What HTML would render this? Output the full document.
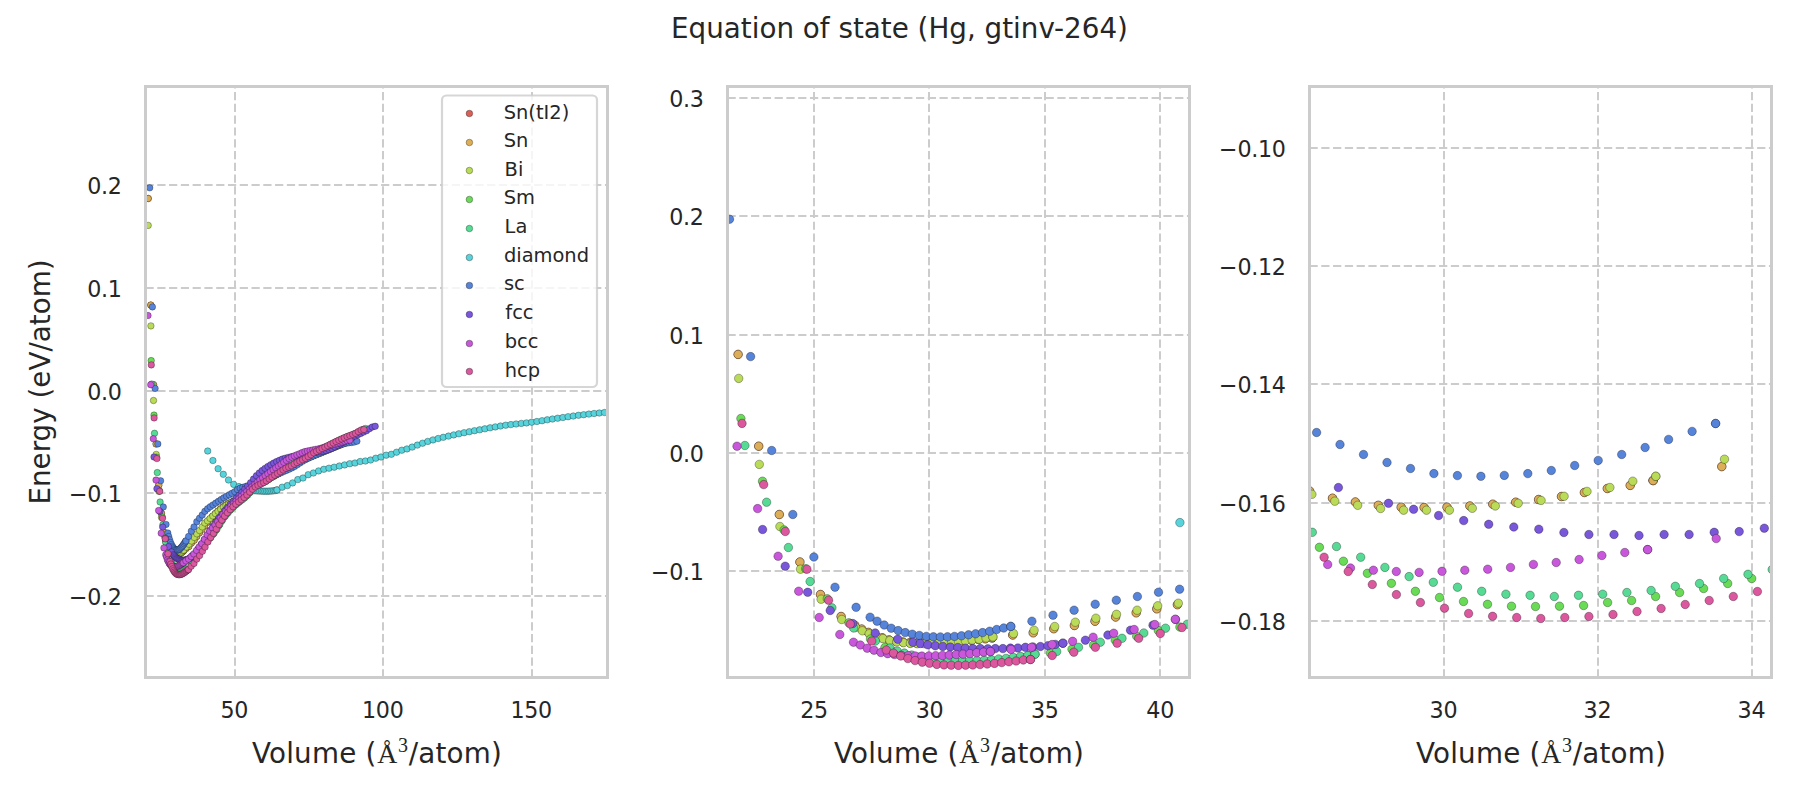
<!DOCTYPE html>
<html lang="en"><head><meta charset="utf-8"><title>Equation of state (Hg, gtinv-264)</title>
<style>
html,body{margin:0;padding:0;background:#fff;}
body{width:1800px;height:800px;overflow:hidden;}
svg{display:block;}
text{font-family:"DejaVu Sans","Liberation Sans",sans-serif;fill:#262626;}
.tick text{font-size:22.22px;letter-spacing:-0.3px;}
.lab,.title{font-size:27.78px;}
.xl{letter-spacing:0.22px;}
.leg{font-size:19.44px;}
.math{font-family:"Liberation Serif","DejaVu Serif",serif;}
.sup{font-family:"Liberation Serif","DejaVu Serif",serif;font-size:20px;}
.grid path{stroke:#ccc;stroke-width:2;stroke-dasharray:8.22 3.56;fill:none;}
.spine{fill:none;stroke:#ccc;stroke-width:3;stroke-linejoin:miter;}
circle{stroke:#000;stroke-opacity:0.55;stroke-width:0.55;}
</style></head><body>
<svg width="1800" height="800" viewBox="0 0 1800 800">
<rect width="1800" height="800" fill="#fff"/>
<defs>
<clipPath id="clipL"><rect x="145.5" y="86.5" width="462" height="591.0"/></clipPath>
<clipPath id="clipM"><rect x="727.5" y="86.5" width="462" height="591.0"/></clipPath>
<clipPath id="clipR"><rect x="1309.5" y="86.5" width="462" height="591.0"/></clipPath>
</defs>
<g class="grid">
<path d="M235 677.5V86.5"/>
<path d="M383 677.5V86.5"/>
<path d="M532 677.5V86.5"/>
<path d="M145.5 185H607.5"/>
<path d="M145.5 288H607.5"/>
<path d="M145.5 391H607.5"/>
<path d="M145.5 493H607.5"/>
<path d="M145.5 596H607.5"/>
</g>
<g class="grid">
<path d="M814 677.5V86.5"/>
<path d="M929 677.5V86.5"/>
<path d="M1045 677.5V86.5"/>
<path d="M1160 677.5V86.5"/>
<path d="M727.5 98H1189.5"/>
<path d="M727.5 216H1189.5"/>
<path d="M727.5 335H1189.5"/>
<path d="M727.5 453H1189.5"/>
<path d="M727.5 571H1189.5"/>
</g>
<g class="grid">
<path d="M1444 677.5V86.5"/>
<path d="M1598 677.5V86.5"/>
<path d="M1752 677.5V86.5"/>
<path d="M1309.5 148H1771.5"/>
<path d="M1309.5 266H1771.5"/>
<path d="M1309.5 384H1771.5"/>
<path d="M1309.5 503H1771.5"/>
<path d="M1309.5 621H1771.5"/>
</g>
<g clip-path="url(#clipL)">
<g fill="#db5f57">
<circle cx="148.2" cy="198.5" r="3.25"/>
<circle cx="150.8" cy="305.1" r="3.25"/>
<circle cx="153.5" cy="384.7" r="3.25"/>
<circle cx="156.1" cy="443.9" r="3.25"/>
<circle cx="158.8" cy="485.1" r="3.25"/>
<circle cx="161.4" cy="513.3" r="3.25"/>
<circle cx="164.1" cy="532.3" r="3.25"/>
<circle cx="165.8" cy="540.0" r="3.25"/>
<circle cx="166.7" cy="543.3" r="3.25"/>
<circle cx="167.6" cy="546.2" r="3.25"/>
<circle cx="168.5" cy="548.7" r="3.25"/>
<circle cx="169.4" cy="550.9" r="3.25"/>
<circle cx="170.2" cy="552.6" r="3.25"/>
<circle cx="171.1" cy="553.9" r="3.25"/>
<circle cx="172.0" cy="554.5" r="3.25"/>
<circle cx="172.9" cy="555.1" r="3.25"/>
<circle cx="173.8" cy="555.4" r="3.25"/>
<circle cx="174.7" cy="555.5" r="3.25"/>
<circle cx="175.5" cy="555.4" r="3.25"/>
<circle cx="176.4" cy="555.2" r="3.25"/>
<circle cx="177.3" cy="554.9" r="3.25"/>
<circle cx="178.2" cy="554.6" r="3.25"/>
<circle cx="179.1" cy="554.1" r="3.25"/>
<circle cx="180.0" cy="553.6" r="3.25"/>
<circle cx="180.8" cy="552.9" r="3.25"/>
<circle cx="181.7" cy="552.2" r="3.25"/>
<circle cx="182.6" cy="551.7" r="3.25"/>
<circle cx="183.5" cy="550.8" r="3.25"/>
<circle cx="183.5" cy="550.8" r="3.25"/>
<circle cx="186.1" cy="548.4" r="3.25"/>
<circle cx="188.8" cy="546.5" r="3.25"/>
<circle cx="191.4" cy="542.9" r="3.25"/>
<circle cx="194.1" cy="540.2" r="3.25"/>
<circle cx="196.7" cy="536.4" r="3.25"/>
<circle cx="199.4" cy="532.8" r="3.25"/>
<circle cx="202.0" cy="529.2" r="3.25"/>
<circle cx="204.7" cy="525.6" r="3.25"/>
<circle cx="207.3" cy="522.1" r="3.25"/>
<circle cx="210.0" cy="519.2" r="3.25"/>
<circle cx="212.6" cy="516.3" r="3.25"/>
<circle cx="215.3" cy="513.7" r="3.25"/>
<circle cx="217.9" cy="511.2" r="3.25"/>
<circle cx="220.6" cy="508.9" r="3.25"/>
<circle cx="223.2" cy="506.9" r="3.25"/>
<circle cx="225.9" cy="505.1" r="3.25"/>
<circle cx="228.5" cy="503.6" r="3.25"/>
<circle cx="231.2" cy="502.3" r="3.25"/>
<circle cx="233.8" cy="500.9" r="3.25"/>
<circle cx="236.5" cy="499.3" r="3.25"/>
<circle cx="239.1" cy="497.4" r="3.25"/>
<circle cx="241.8" cy="495.5" r="3.25"/>
<circle cx="244.4" cy="493.6" r="3.25"/>
<circle cx="247.1" cy="491.6" r="3.25"/>
<circle cx="249.7" cy="489.6" r="3.25"/>
<circle cx="252.4" cy="487.6" r="3.25"/>
<circle cx="255.0" cy="485.7" r="3.25"/>
<circle cx="257.7" cy="484.5" r="3.25"/>
<circle cx="260.3" cy="483.3" r="3.25"/>
<circle cx="263.0" cy="482.4" r="3.25"/>
<circle cx="265.6" cy="481.3" r="3.25"/>
<circle cx="268.3" cy="479.5" r="3.25"/>
<circle cx="270.9" cy="477.7" r="3.25"/>
<circle cx="273.6" cy="476.2" r="3.25"/>
<circle cx="276.2" cy="474.7" r="3.25"/>
<circle cx="278.9" cy="473.2" r="3.25"/>
<circle cx="281.5" cy="471.6" r="3.25"/>
<circle cx="284.2" cy="470.0" r="3.25"/>
<circle cx="286.8" cy="468.6" r="3.25"/>
<circle cx="289.5" cy="467.3" r="3.25"/>
<circle cx="292.1" cy="465.7" r="3.25"/>
<circle cx="294.8" cy="464.0" r="3.25"/>
<circle cx="297.4" cy="462.6" r="3.25"/>
<circle cx="300.1" cy="461.2" r="3.25"/>
<circle cx="302.7" cy="460.0" r="3.25"/>
<circle cx="305.4" cy="458.9" r="3.25"/>
<circle cx="308.0" cy="457.8" r="3.25"/>
<circle cx="310.6" cy="456.7" r="3.25"/>
<circle cx="313.3" cy="455.7" r="3.25"/>
<circle cx="315.9" cy="454.6" r="3.25"/>
<circle cx="318.6" cy="453.6" r="3.25"/>
<circle cx="321.2" cy="452.6" r="3.25"/>
<circle cx="323.9" cy="451.5" r="3.25"/>
<circle cx="326.5" cy="450.4" r="3.25"/>
<circle cx="329.2" cy="449.4" r="3.25"/>
<circle cx="331.8" cy="448.3" r="3.25"/>
<circle cx="334.5" cy="447.2" r="3.25"/>
<circle cx="337.1" cy="446.1" r="3.25"/>
<circle cx="339.8" cy="445.0" r="3.25"/>
<circle cx="342.4" cy="443.9" r="3.25"/>
<circle cx="345.1" cy="442.9" r="3.25"/>
<circle cx="347.7" cy="442.0" r="3.25"/>
<circle cx="350.4" cy="441.0" r="3.25"/>
</g>
<g fill="#dbae57">
<circle cx="148.2" cy="198.5" r="3.25"/>
<circle cx="150.8" cy="305.1" r="3.25"/>
<circle cx="153.5" cy="384.7" r="3.25"/>
<circle cx="156.1" cy="443.9" r="3.25"/>
<circle cx="158.8" cy="485.1" r="3.25"/>
<circle cx="161.4" cy="513.3" r="3.25"/>
<circle cx="164.1" cy="532.3" r="3.25"/>
<circle cx="165.8" cy="540.0" r="3.25"/>
<circle cx="166.7" cy="543.3" r="3.25"/>
<circle cx="167.6" cy="546.2" r="3.25"/>
<circle cx="168.5" cy="548.7" r="3.25"/>
<circle cx="169.4" cy="550.9" r="3.25"/>
<circle cx="170.2" cy="552.6" r="3.25"/>
<circle cx="171.1" cy="553.9" r="3.25"/>
<circle cx="172.0" cy="554.5" r="3.25"/>
<circle cx="172.9" cy="555.1" r="3.25"/>
<circle cx="173.8" cy="555.4" r="3.25"/>
<circle cx="174.7" cy="555.5" r="3.25"/>
<circle cx="175.5" cy="555.4" r="3.25"/>
<circle cx="176.4" cy="555.2" r="3.25"/>
<circle cx="177.3" cy="554.9" r="3.25"/>
<circle cx="178.2" cy="554.6" r="3.25"/>
<circle cx="179.1" cy="554.1" r="3.25"/>
<circle cx="180.0" cy="553.6" r="3.25"/>
<circle cx="180.8" cy="552.9" r="3.25"/>
<circle cx="181.7" cy="552.2" r="3.25"/>
<circle cx="182.6" cy="551.7" r="3.25"/>
<circle cx="183.5" cy="550.8" r="3.25"/>
<circle cx="183.5" cy="550.8" r="3.25"/>
<circle cx="186.1" cy="548.4" r="3.25"/>
<circle cx="188.8" cy="546.5" r="3.25"/>
<circle cx="191.4" cy="542.9" r="3.25"/>
<circle cx="194.1" cy="540.2" r="3.25"/>
<circle cx="196.7" cy="536.4" r="3.25"/>
<circle cx="199.4" cy="532.8" r="3.25"/>
<circle cx="202.0" cy="529.2" r="3.25"/>
<circle cx="204.7" cy="525.6" r="3.25"/>
<circle cx="207.3" cy="522.1" r="3.25"/>
<circle cx="210.0" cy="519.2" r="3.25"/>
<circle cx="212.6" cy="516.3" r="3.25"/>
<circle cx="215.3" cy="513.7" r="3.25"/>
<circle cx="217.9" cy="511.2" r="3.25"/>
<circle cx="220.6" cy="508.9" r="3.25"/>
<circle cx="223.2" cy="506.9" r="3.25"/>
<circle cx="225.9" cy="505.1" r="3.25"/>
<circle cx="228.5" cy="503.6" r="3.25"/>
<circle cx="231.2" cy="502.3" r="3.25"/>
<circle cx="233.8" cy="500.9" r="3.25"/>
<circle cx="236.5" cy="499.3" r="3.25"/>
<circle cx="239.1" cy="497.4" r="3.25"/>
<circle cx="241.8" cy="495.5" r="3.25"/>
<circle cx="244.4" cy="493.6" r="3.25"/>
<circle cx="247.1" cy="491.6" r="3.25"/>
<circle cx="249.7" cy="489.6" r="3.25"/>
<circle cx="252.4" cy="487.6" r="3.25"/>
<circle cx="255.0" cy="485.7" r="3.25"/>
<circle cx="257.7" cy="484.5" r="3.25"/>
<circle cx="260.3" cy="483.3" r="3.25"/>
<circle cx="263.0" cy="482.4" r="3.25"/>
<circle cx="265.6" cy="481.3" r="3.25"/>
<circle cx="268.3" cy="479.5" r="3.25"/>
<circle cx="270.9" cy="477.7" r="3.25"/>
<circle cx="273.6" cy="476.2" r="3.25"/>
<circle cx="276.2" cy="474.7" r="3.25"/>
<circle cx="278.9" cy="473.2" r="3.25"/>
<circle cx="281.5" cy="471.6" r="3.25"/>
<circle cx="284.2" cy="470.0" r="3.25"/>
<circle cx="286.8" cy="468.6" r="3.25"/>
<circle cx="289.5" cy="467.3" r="3.25"/>
<circle cx="292.1" cy="465.7" r="3.25"/>
<circle cx="294.8" cy="464.0" r="3.25"/>
<circle cx="297.4" cy="462.6" r="3.25"/>
<circle cx="300.1" cy="461.2" r="3.25"/>
<circle cx="302.7" cy="460.0" r="3.25"/>
<circle cx="305.4" cy="458.9" r="3.25"/>
<circle cx="308.0" cy="457.8" r="3.25"/>
<circle cx="310.6" cy="456.7" r="3.25"/>
<circle cx="313.3" cy="455.7" r="3.25"/>
<circle cx="315.9" cy="454.6" r="3.25"/>
<circle cx="318.6" cy="453.6" r="3.25"/>
<circle cx="321.2" cy="452.6" r="3.25"/>
<circle cx="323.9" cy="451.5" r="3.25"/>
<circle cx="326.5" cy="450.4" r="3.25"/>
<circle cx="329.2" cy="449.4" r="3.25"/>
<circle cx="331.8" cy="448.3" r="3.25"/>
<circle cx="334.5" cy="447.2" r="3.25"/>
<circle cx="337.1" cy="446.1" r="3.25"/>
<circle cx="339.8" cy="445.0" r="3.25"/>
<circle cx="342.4" cy="443.9" r="3.25"/>
<circle cx="345.1" cy="442.9" r="3.25"/>
<circle cx="347.7" cy="442.0" r="3.25"/>
<circle cx="350.4" cy="441.0" r="3.25"/>
</g>
<g fill="#b9db57">
<circle cx="148.2" cy="225.4" r="3.25"/>
<circle cx="150.9" cy="325.9" r="3.25"/>
<circle cx="153.5" cy="400.5" r="3.25"/>
<circle cx="156.2" cy="454.4" r="3.25"/>
<circle cx="158.8" cy="491.3" r="3.25"/>
<circle cx="161.5" cy="517.4" r="3.25"/>
<circle cx="164.1" cy="534.9" r="3.25"/>
<circle cx="165.9" cy="541.8" r="3.25"/>
<circle cx="166.8" cy="544.7" r="3.25"/>
<circle cx="167.7" cy="547.3" r="3.25"/>
<circle cx="168.6" cy="549.6" r="3.25"/>
<circle cx="169.4" cy="551.6" r="3.25"/>
<circle cx="170.3" cy="553.2" r="3.25"/>
<circle cx="171.2" cy="554.4" r="3.25"/>
<circle cx="172.1" cy="555.1" r="3.25"/>
<circle cx="173.0" cy="555.7" r="3.25"/>
<circle cx="173.9" cy="556.0" r="3.25"/>
<circle cx="174.7" cy="556.0" r="3.25"/>
<circle cx="175.6" cy="556.0" r="3.25"/>
<circle cx="176.5" cy="555.6" r="3.25"/>
<circle cx="177.4" cy="555.2" r="3.25"/>
<circle cx="178.3" cy="554.8" r="3.25"/>
<circle cx="179.2" cy="554.3" r="3.25"/>
<circle cx="180.1" cy="553.5" r="3.25"/>
<circle cx="180.9" cy="552.7" r="3.25"/>
<circle cx="181.8" cy="552.0" r="3.25"/>
<circle cx="182.7" cy="550.9" r="3.25"/>
<circle cx="183.6" cy="550.1" r="3.25"/>
<circle cx="183.6" cy="550.1" r="3.25"/>
<circle cx="186.2" cy="547.1" r="3.25"/>
<circle cx="188.9" cy="544.2" r="3.25"/>
<circle cx="191.5" cy="541.0" r="3.25"/>
<circle cx="194.2" cy="537.4" r="3.25"/>
<circle cx="196.8" cy="533.8" r="3.25"/>
<circle cx="199.5" cy="530.5" r="3.25"/>
<circle cx="202.2" cy="526.9" r="3.25"/>
<circle cx="204.8" cy="523.0" r="3.25"/>
<circle cx="207.5" cy="520.8" r="3.25"/>
<circle cx="210.1" cy="518.4" r="3.25"/>
<circle cx="212.8" cy="515.9" r="3.25"/>
<circle cx="215.4" cy="513.6" r="3.25"/>
<circle cx="218.1" cy="511.3" r="3.25"/>
<circle cx="220.7" cy="509.2" r="3.25"/>
<circle cx="223.4" cy="507.2" r="3.25"/>
<circle cx="226.0" cy="505.4" r="3.25"/>
<circle cx="228.7" cy="503.9" r="3.25"/>
<circle cx="231.3" cy="502.6" r="3.25"/>
<circle cx="234.0" cy="501.1" r="3.25"/>
<circle cx="236.6" cy="499.5" r="3.25"/>
<circle cx="239.3" cy="497.6" r="3.25"/>
<circle cx="241.9" cy="495.7" r="3.25"/>
<circle cx="244.6" cy="493.7" r="3.25"/>
<circle cx="247.2" cy="491.8" r="3.25"/>
<circle cx="249.9" cy="489.8" r="3.25"/>
<circle cx="252.5" cy="487.8" r="3.25"/>
<circle cx="255.2" cy="485.9" r="3.25"/>
<circle cx="257.8" cy="484.7" r="3.25"/>
<circle cx="260.5" cy="483.5" r="3.25"/>
<circle cx="263.1" cy="482.6" r="3.25"/>
<circle cx="265.8" cy="481.4" r="3.25"/>
<circle cx="268.5" cy="479.5" r="3.25"/>
<circle cx="271.1" cy="477.8" r="3.25"/>
<circle cx="273.8" cy="476.3" r="3.25"/>
<circle cx="276.4" cy="474.8" r="3.25"/>
<circle cx="279.1" cy="473.3" r="3.25"/>
<circle cx="281.7" cy="471.7" r="3.25"/>
<circle cx="284.4" cy="470.1" r="3.25"/>
<circle cx="287.0" cy="468.7" r="3.25"/>
<circle cx="289.7" cy="467.5" r="3.25"/>
<circle cx="292.3" cy="465.8" r="3.25"/>
<circle cx="295.0" cy="464.1" r="3.25"/>
<circle cx="297.6" cy="462.6" r="3.25"/>
<circle cx="300.3" cy="461.3" r="3.25"/>
<circle cx="302.9" cy="460.1" r="3.25"/>
<circle cx="305.6" cy="459.0" r="3.25"/>
<circle cx="308.2" cy="457.9" r="3.25"/>
<circle cx="310.9" cy="456.9" r="3.25"/>
<circle cx="313.5" cy="455.8" r="3.25"/>
<circle cx="316.2" cy="454.8" r="3.25"/>
<circle cx="318.8" cy="453.7" r="3.25"/>
<circle cx="321.5" cy="452.7" r="3.25"/>
<circle cx="324.1" cy="451.6" r="3.25"/>
<circle cx="326.8" cy="450.5" r="3.25"/>
<circle cx="329.4" cy="449.5" r="3.25"/>
<circle cx="332.1" cy="448.3" r="3.25"/>
<circle cx="334.8" cy="447.2" r="3.25"/>
<circle cx="337.4" cy="446.1" r="3.25"/>
<circle cx="340.1" cy="445.1" r="3.25"/>
<circle cx="342.7" cy="444.0" r="3.25"/>
<circle cx="345.4" cy="443.0" r="3.25"/>
<circle cx="348.0" cy="442.1" r="3.25"/>
<circle cx="350.7" cy="441.2" r="3.25"/>
</g>
<g fill="#69db57">
<circle cx="151.2" cy="360.6" r="3.25"/>
<circle cx="154.0" cy="415.1" r="3.25"/>
<circle cx="156.7" cy="457.3" r="3.25"/>
<circle cx="159.5" cy="491.0" r="3.25"/>
<circle cx="162.3" cy="517.0" r="3.25"/>
<circle cx="165.1" cy="537.8" r="3.25"/>
<circle cx="167.8" cy="551.9" r="3.25"/>
<circle cx="169.7" cy="559.3" r="3.25"/>
<circle cx="170.6" cy="562.4" r="3.25"/>
<circle cx="171.5" cy="564.8" r="3.25"/>
<circle cx="172.5" cy="566.9" r="3.25"/>
<circle cx="173.4" cy="568.6" r="3.25"/>
<circle cx="174.3" cy="570.0" r="3.25"/>
<circle cx="175.2" cy="571.1" r="3.25"/>
<circle cx="176.2" cy="571.8" r="3.25"/>
<circle cx="177.1" cy="572.3" r="3.25"/>
<circle cx="178.0" cy="572.6" r="3.25"/>
<circle cx="179.0" cy="572.7" r="3.25"/>
<circle cx="179.9" cy="572.6" r="3.25"/>
<circle cx="180.8" cy="572.5" r="3.25"/>
<circle cx="181.7" cy="572.0" r="3.25"/>
<circle cx="182.7" cy="571.6" r="3.25"/>
<circle cx="183.6" cy="570.9" r="3.25"/>
<circle cx="184.5" cy="570.2" r="3.25"/>
<circle cx="185.4" cy="569.6" r="3.25"/>
<circle cx="186.4" cy="568.7" r="3.25"/>
<circle cx="187.3" cy="567.8" r="3.25"/>
<circle cx="188.2" cy="566.6" r="3.25"/>
<circle cx="188.2" cy="566.6" r="3.25"/>
<circle cx="191.0" cy="564.0" r="3.25"/>
<circle cx="193.8" cy="560.8" r="3.25"/>
<circle cx="196.5" cy="557.1" r="3.25"/>
<circle cx="199.3" cy="552.7" r="3.25"/>
<circle cx="202.1" cy="549.5" r="3.25"/>
<circle cx="204.9" cy="544.5" r="3.25"/>
<circle cx="207.7" cy="541.5" r="3.25"/>
<circle cx="210.4" cy="538.0" r="3.25"/>
<circle cx="213.2" cy="534.2" r="3.25"/>
<circle cx="216.0" cy="530.3" r="3.25"/>
<circle cx="218.8" cy="525.8" r="3.25"/>
<circle cx="221.6" cy="521.3" r="3.25"/>
<circle cx="224.3" cy="517.1" r="3.25"/>
<circle cx="227.1" cy="513.7" r="3.25"/>
<circle cx="229.9" cy="510.5" r="3.25"/>
<circle cx="232.7" cy="507.6" r="3.25"/>
<circle cx="235.4" cy="505.0" r="3.25"/>
<circle cx="238.2" cy="502.7" r="3.25"/>
<circle cx="241.0" cy="500.5" r="3.25"/>
<circle cx="243.8" cy="498.4" r="3.25"/>
<circle cx="246.6" cy="495.9" r="3.25"/>
<circle cx="249.3" cy="493.1" r="3.25"/>
<circle cx="252.1" cy="490.3" r="3.25"/>
<circle cx="254.9" cy="487.8" r="3.25"/>
<circle cx="257.7" cy="485.8" r="3.25"/>
<circle cx="260.4" cy="484.0" r="3.25"/>
<circle cx="263.2" cy="482.3" r="3.25"/>
<circle cx="266.0" cy="480.5" r="3.25"/>
<circle cx="268.8" cy="478.4" r="3.25"/>
<circle cx="271.6" cy="476.4" r="3.25"/>
<circle cx="274.3" cy="474.7" r="3.25"/>
<circle cx="277.1" cy="473.0" r="3.25"/>
<circle cx="279.9" cy="471.3" r="3.25"/>
<circle cx="282.7" cy="469.5" r="3.25"/>
<circle cx="285.4" cy="467.9" r="3.25"/>
<circle cx="288.2" cy="466.7" r="3.25"/>
<circle cx="291.0" cy="465.4" r="3.25"/>
<circle cx="293.8" cy="463.8" r="3.25"/>
<circle cx="296.6" cy="462.2" r="3.25"/>
<circle cx="299.3" cy="460.7" r="3.25"/>
<circle cx="302.1" cy="459.3" r="3.25"/>
<circle cx="304.9" cy="457.9" r="3.25"/>
<circle cx="307.7" cy="456.5" r="3.25"/>
<circle cx="310.4" cy="454.9" r="3.25"/>
<circle cx="313.2" cy="453.3" r="3.25"/>
<circle cx="316.0" cy="451.9" r="3.25"/>
<circle cx="318.8" cy="450.5" r="3.25"/>
<circle cx="321.6" cy="449.1" r="3.25"/>
<circle cx="324.3" cy="447.7" r="3.25"/>
<circle cx="327.1" cy="446.3" r="3.25"/>
<circle cx="329.9" cy="444.9" r="3.25"/>
<circle cx="332.7" cy="443.5" r="3.25"/>
<circle cx="335.5" cy="442.1" r="3.25"/>
<circle cx="338.2" cy="440.8" r="3.25"/>
<circle cx="341.0" cy="439.5" r="3.25"/>
<circle cx="343.8" cy="438.2" r="3.25"/>
<circle cx="346.6" cy="437.1" r="3.25"/>
<circle cx="349.3" cy="436.0" r="3.25"/>
<circle cx="352.1" cy="435.0" r="3.25"/>
<circle cx="354.9" cy="433.8" r="3.25"/>
<circle cx="357.7" cy="432.5" r="3.25"/>
<circle cx="360.5" cy="431.0" r="3.25"/>
<circle cx="363.2" cy="429.4" r="3.25"/>
</g>
<g fill="#57db94">
<circle cx="151.7" cy="384.1" r="3.25"/>
<circle cx="154.5" cy="433.3" r="3.25"/>
<circle cx="157.3" cy="472.6" r="3.25"/>
<circle cx="160.1" cy="502.0" r="3.25"/>
<circle cx="162.9" cy="524.8" r="3.25"/>
<circle cx="165.7" cy="542.3" r="3.25"/>
<circle cx="168.5" cy="553.7" r="3.25"/>
<circle cx="170.3" cy="559.8" r="3.25"/>
<circle cx="171.3" cy="562.3" r="3.25"/>
<circle cx="172.2" cy="564.1" r="3.25"/>
<circle cx="173.1" cy="565.9" r="3.25"/>
<circle cx="174.1" cy="567.5" r="3.25"/>
<circle cx="175.0" cy="568.5" r="3.25"/>
<circle cx="175.9" cy="569.3" r="3.25"/>
<circle cx="176.9" cy="570.0" r="3.25"/>
<circle cx="177.8" cy="570.5" r="3.25"/>
<circle cx="178.7" cy="570.7" r="3.25"/>
<circle cx="179.7" cy="570.9" r="3.25"/>
<circle cx="180.6" cy="570.7" r="3.25"/>
<circle cx="181.5" cy="570.5" r="3.25"/>
<circle cx="182.5" cy="570.2" r="3.25"/>
<circle cx="183.4" cy="569.9" r="3.25"/>
<circle cx="184.3" cy="569.2" r="3.25"/>
<circle cx="185.3" cy="568.7" r="3.25"/>
<circle cx="186.2" cy="567.8" r="3.25"/>
<circle cx="187.1" cy="567.1" r="3.25"/>
<circle cx="188.1" cy="566.3" r="3.25"/>
<circle cx="189.0" cy="565.1" r="3.25"/>
<circle cx="189.0" cy="565.1" r="3.25"/>
<circle cx="191.8" cy="562.7" r="3.25"/>
<circle cx="194.6" cy="559.1" r="3.25"/>
<circle cx="197.4" cy="554.7" r="3.25"/>
<circle cx="200.2" cy="551.3" r="3.25"/>
<circle cx="203.0" cy="546.7" r="3.25"/>
<circle cx="205.8" cy="542.6" r="3.25"/>
<circle cx="208.6" cy="539.0" r="3.25"/>
<circle cx="211.4" cy="536.0" r="3.25"/>
<circle cx="214.2" cy="532.9" r="3.25"/>
<circle cx="217.0" cy="529.1" r="3.25"/>
<circle cx="219.8" cy="524.5" r="3.25"/>
<circle cx="222.6" cy="519.9" r="3.25"/>
<circle cx="225.4" cy="516.0" r="3.25"/>
<circle cx="228.2" cy="512.6" r="3.25"/>
<circle cx="231.0" cy="509.5" r="3.25"/>
<circle cx="233.8" cy="506.7" r="3.25"/>
<circle cx="236.6" cy="504.2" r="3.25"/>
<circle cx="239.4" cy="502.0" r="3.25"/>
<circle cx="242.2" cy="499.8" r="3.25"/>
<circle cx="245.0" cy="497.5" r="3.25"/>
<circle cx="247.8" cy="494.9" r="3.25"/>
<circle cx="250.6" cy="492.0" r="3.25"/>
<circle cx="253.4" cy="489.3" r="3.25"/>
<circle cx="256.2" cy="487.0" r="3.25"/>
<circle cx="259.0" cy="485.1" r="3.25"/>
<circle cx="261.8" cy="483.3" r="3.25"/>
<circle cx="264.6" cy="481.7" r="3.25"/>
<circle cx="267.4" cy="479.6" r="3.25"/>
<circle cx="270.2" cy="477.5" r="3.25"/>
<circle cx="273.0" cy="475.7" r="3.25"/>
<circle cx="275.8" cy="474.0" r="3.25"/>
<circle cx="278.6" cy="472.3" r="3.25"/>
<circle cx="281.4" cy="470.6" r="3.25"/>
<circle cx="284.2" cy="468.8" r="3.25"/>
<circle cx="287.0" cy="467.4" r="3.25"/>
<circle cx="289.8" cy="466.3" r="3.25"/>
<circle cx="292.6" cy="464.7" r="3.25"/>
<circle cx="295.4" cy="463.0" r="3.25"/>
<circle cx="298.2" cy="461.5" r="3.25"/>
<circle cx="301.0" cy="460.0" r="3.25"/>
<circle cx="303.8" cy="458.7" r="3.25"/>
<circle cx="306.6" cy="457.2" r="3.25"/>
<circle cx="309.4" cy="455.6" r="3.25"/>
<circle cx="312.2" cy="454.0" r="3.25"/>
<circle cx="315.0" cy="452.4" r="3.25"/>
<circle cx="317.8" cy="450.9" r="3.25"/>
<circle cx="320.6" cy="449.6" r="3.25"/>
<circle cx="323.4" cy="448.2" r="3.25"/>
<circle cx="326.2" cy="446.8" r="3.25"/>
<circle cx="329.0" cy="445.4" r="3.25"/>
<circle cx="331.8" cy="443.9" r="3.25"/>
<circle cx="334.6" cy="442.5" r="3.25"/>
<circle cx="337.4" cy="441.2" r="3.25"/>
<circle cx="340.2" cy="439.8" r="3.25"/>
<circle cx="343.0" cy="438.6" r="3.25"/>
<circle cx="345.8" cy="437.4" r="3.25"/>
<circle cx="348.6" cy="436.3" r="3.25"/>
<circle cx="351.4" cy="435.3" r="3.25"/>
<circle cx="354.2" cy="434.1" r="3.25"/>
<circle cx="357.0" cy="432.9" r="3.25"/>
<circle cx="359.8" cy="431.5" r="3.25"/>
<circle cx="362.6" cy="430.1" r="3.25"/>
<circle cx="365.4" cy="428.5" r="3.25"/>
</g>
<g fill="#57d3db">
<circle cx="207.7" cy="451.0" r="3.25"/>
<circle cx="212.9" cy="460.5" r="3.25"/>
<circle cx="218.1" cy="468.7" r="3.25"/>
<circle cx="223.3" cy="474.3" r="3.25"/>
<circle cx="228.5" cy="480.0" r="3.25"/>
<circle cx="233.7" cy="484.4" r="3.25"/>
<circle cx="238.9" cy="486.6" r="3.25"/>
<circle cx="242.3" cy="487.7" r="3.25"/>
<circle cx="244.1" cy="488.3" r="3.25"/>
<circle cx="245.8" cy="488.8" r="3.25"/>
<circle cx="247.5" cy="489.4" r="3.25"/>
<circle cx="249.3" cy="489.8" r="3.25"/>
<circle cx="251.0" cy="490.2" r="3.25"/>
<circle cx="252.7" cy="490.5" r="3.25"/>
<circle cx="254.5" cy="490.7" r="3.25"/>
<circle cx="256.2" cy="490.8" r="3.25"/>
<circle cx="257.9" cy="490.9" r="3.25"/>
<circle cx="259.7" cy="491.0" r="3.25"/>
<circle cx="261.4" cy="491.1" r="3.25"/>
<circle cx="263.1" cy="491.2" r="3.25"/>
<circle cx="264.8" cy="491.2" r="3.25"/>
<circle cx="266.6" cy="491.2" r="3.25"/>
<circle cx="268.3" cy="491.2" r="3.25"/>
<circle cx="270.0" cy="491.1" r="3.25"/>
<circle cx="271.8" cy="491.0" r="3.25"/>
<circle cx="273.5" cy="490.8" r="3.25"/>
<circle cx="275.2" cy="490.6" r="3.25"/>
<circle cx="277.0" cy="489.9" r="3.25"/>
<circle cx="277.0" cy="489.9" r="3.25"/>
<circle cx="282.2" cy="487.2" r="3.25"/>
<circle cx="287.4" cy="485.6" r="3.25"/>
<circle cx="292.6" cy="482.9" r="3.25"/>
<circle cx="297.8" cy="479.6" r="3.25"/>
<circle cx="303.0" cy="478.0" r="3.25"/>
<circle cx="308.2" cy="474.7" r="3.25"/>
<circle cx="313.4" cy="473.0" r="3.25"/>
<circle cx="318.6" cy="470.9" r="3.25"/>
<circle cx="323.8" cy="469.3" r="3.25"/>
<circle cx="329.0" cy="468.2" r="3.25"/>
<circle cx="334.2" cy="467.2" r="3.25"/>
<circle cx="339.4" cy="466.0" r="3.25"/>
<circle cx="344.6" cy="464.9" r="3.25"/>
<circle cx="349.8" cy="463.7" r="3.25"/>
<circle cx="355.0" cy="463.0" r="3.25"/>
<circle cx="360.2" cy="461.5" r="3.25"/>
<circle cx="365.4" cy="461.0" r="3.25"/>
<circle cx="370.6" cy="460.0" r="3.25"/>
<circle cx="375.8" cy="458.2" r="3.25"/>
<circle cx="381.0" cy="457.0" r="3.25"/>
<circle cx="386.2" cy="455.2" r="3.25"/>
<circle cx="391.4" cy="454.3" r="3.25"/>
<circle cx="396.6" cy="452.2" r="3.25"/>
<circle cx="401.8" cy="450.2" r="3.25"/>
<circle cx="407.0" cy="448.9" r="3.25"/>
<circle cx="412.2" cy="447.1" r="3.25"/>
<circle cx="417.4" cy="445.1" r="3.25"/>
<circle cx="422.6" cy="443.2" r="3.25"/>
<circle cx="427.8" cy="441.4" r="3.25"/>
<circle cx="433.0" cy="439.9" r="3.25"/>
<circle cx="438.2" cy="438.5" r="3.25"/>
<circle cx="443.3" cy="437.3" r="3.25"/>
<circle cx="448.5" cy="436.1" r="3.25"/>
<circle cx="453.7" cy="434.9" r="3.25"/>
<circle cx="458.9" cy="433.8" r="3.25"/>
<circle cx="464.1" cy="432.7" r="3.25"/>
<circle cx="469.3" cy="431.7" r="3.25"/>
<circle cx="474.5" cy="430.7" r="3.25"/>
<circle cx="479.7" cy="429.8" r="3.25"/>
<circle cx="484.9" cy="428.8" r="3.25"/>
<circle cx="490.1" cy="427.8" r="3.25"/>
<circle cx="495.3" cy="426.9" r="3.25"/>
<circle cx="500.5" cy="426.0" r="3.25"/>
<circle cx="505.7" cy="425.2" r="3.25"/>
<circle cx="510.9" cy="424.6" r="3.25"/>
<circle cx="516.1" cy="424.0" r="3.25"/>
<circle cx="521.3" cy="423.4" r="3.25"/>
<circle cx="526.5" cy="422.9" r="3.25"/>
<circle cx="531.7" cy="422.2" r="3.25"/>
<circle cx="536.9" cy="421.5" r="3.25"/>
<circle cx="542.1" cy="420.7" r="3.25"/>
<circle cx="547.3" cy="419.8" r="3.25"/>
<circle cx="552.5" cy="419.0" r="3.25"/>
<circle cx="557.7" cy="418.2" r="3.25"/>
<circle cx="562.9" cy="417.5" r="3.25"/>
<circle cx="568.1" cy="416.7" r="3.25"/>
<circle cx="573.3" cy="416.0" r="3.25"/>
<circle cx="578.5" cy="415.3" r="3.25"/>
<circle cx="583.7" cy="414.7" r="3.25"/>
<circle cx="588.9" cy="414.1" r="3.25"/>
<circle cx="594.1" cy="413.5" r="3.25"/>
<circle cx="599.3" cy="413.0" r="3.25"/>
<circle cx="604.5" cy="412.5" r="3.25"/>
</g>
<g fill="#5784db">
<circle cx="149.7" cy="187.8" r="3.25"/>
<circle cx="152.4" cy="306.9" r="3.25"/>
<circle cx="155.1" cy="388.4" r="3.25"/>
<circle cx="157.8" cy="443.9" r="3.25"/>
<circle cx="160.6" cy="480.8" r="3.25"/>
<circle cx="163.3" cy="507.0" r="3.25"/>
<circle cx="166.0" cy="524.4" r="3.25"/>
<circle cx="167.8" cy="533.0" r="3.25"/>
<circle cx="168.7" cy="536.5" r="3.25"/>
<circle cx="169.6" cy="539.7" r="3.25"/>
<circle cx="170.5" cy="542.5" r="3.25"/>
<circle cx="171.4" cy="544.6" r="3.25"/>
<circle cx="172.3" cy="546.3" r="3.25"/>
<circle cx="173.2" cy="547.7" r="3.25"/>
<circle cx="174.1" cy="548.7" r="3.25"/>
<circle cx="175.0" cy="549.6" r="3.25"/>
<circle cx="175.9" cy="550.0" r="3.25"/>
<circle cx="176.8" cy="550.1" r="3.25"/>
<circle cx="177.8" cy="549.9" r="3.25"/>
<circle cx="178.7" cy="549.6" r="3.25"/>
<circle cx="179.6" cy="549.1" r="3.25"/>
<circle cx="180.5" cy="548.2" r="3.25"/>
<circle cx="181.4" cy="547.3" r="3.25"/>
<circle cx="182.3" cy="546.3" r="3.25"/>
<circle cx="183.2" cy="545.1" r="3.25"/>
<circle cx="184.1" cy="543.7" r="3.25"/>
<circle cx="185.0" cy="542.3" r="3.25"/>
<circle cx="185.9" cy="540.9" r="3.25"/>
<circle cx="185.9" cy="540.9" r="3.25"/>
<circle cx="188.6" cy="536.4" r="3.25"/>
<circle cx="191.3" cy="531.2" r="3.25"/>
<circle cx="194.0" cy="526.9" r="3.25"/>
<circle cx="196.8" cy="521.7" r="3.25"/>
<circle cx="199.5" cy="518.2" r="3.25"/>
<circle cx="202.2" cy="515.0" r="3.25"/>
<circle cx="204.9" cy="511.3" r="3.25"/>
<circle cx="207.6" cy="508.7" r="3.25"/>
<circle cx="210.3" cy="506.7" r="3.25"/>
<circle cx="213.0" cy="504.9" r="3.25"/>
<circle cx="215.8" cy="503.1" r="3.25"/>
<circle cx="218.5" cy="501.3" r="3.25"/>
<circle cx="221.2" cy="499.5" r="3.25"/>
<circle cx="223.9" cy="497.8" r="3.25"/>
<circle cx="226.6" cy="496.2" r="3.25"/>
<circle cx="229.3" cy="494.8" r="3.25"/>
<circle cx="232.0" cy="493.3" r="3.25"/>
<circle cx="234.8" cy="491.7" r="3.25"/>
<circle cx="237.5" cy="489.6" r="3.25"/>
<circle cx="240.2" cy="488.2" r="3.25"/>
<circle cx="242.9" cy="487.3" r="3.25"/>
<circle cx="245.6" cy="486.5" r="3.25"/>
<circle cx="248.3" cy="485.9" r="3.25"/>
<circle cx="251.1" cy="485.2" r="3.25"/>
<circle cx="253.8" cy="484.5" r="3.25"/>
<circle cx="256.5" cy="483.6" r="3.25"/>
<circle cx="259.2" cy="482.6" r="3.25"/>
<circle cx="261.9" cy="481.6" r="3.25"/>
<circle cx="264.6" cy="480.5" r="3.25"/>
<circle cx="267.3" cy="479.2" r="3.25"/>
<circle cx="270.1" cy="477.8" r="3.25"/>
<circle cx="272.8" cy="476.3" r="3.25"/>
<circle cx="275.5" cy="475.1" r="3.25"/>
<circle cx="278.2" cy="473.9" r="3.25"/>
<circle cx="280.9" cy="472.8" r="3.25"/>
<circle cx="283.6" cy="471.6" r="3.25"/>
<circle cx="286.3" cy="470.4" r="3.25"/>
<circle cx="289.1" cy="469.2" r="3.25"/>
<circle cx="291.8" cy="467.9" r="3.25"/>
<circle cx="294.5" cy="466.5" r="3.25"/>
<circle cx="297.2" cy="464.8" r="3.25"/>
<circle cx="299.9" cy="463.0" r="3.25"/>
<circle cx="302.6" cy="461.2" r="3.25"/>
<circle cx="305.3" cy="459.7" r="3.25"/>
<circle cx="308.1" cy="458.3" r="3.25"/>
<circle cx="310.8" cy="457.0" r="3.25"/>
<circle cx="313.5" cy="455.8" r="3.25"/>
<circle cx="316.2" cy="454.7" r="3.25"/>
<circle cx="318.9" cy="453.6" r="3.25"/>
<circle cx="321.6" cy="452.4" r="3.25"/>
<circle cx="324.4" cy="451.3" r="3.25"/>
<circle cx="327.1" cy="450.2" r="3.25"/>
<circle cx="329.8" cy="449.0" r="3.25"/>
<circle cx="332.5" cy="447.9" r="3.25"/>
<circle cx="335.2" cy="446.7" r="3.25"/>
<circle cx="337.9" cy="445.6" r="3.25"/>
<circle cx="340.6" cy="444.6" r="3.25"/>
<circle cx="343.4" cy="443.8" r="3.25"/>
<circle cx="346.1" cy="443.2" r="3.25"/>
<circle cx="348.8" cy="442.8" r="3.25"/>
<circle cx="351.5" cy="442.5" r="3.25"/>
<circle cx="354.2" cy="442.1" r="3.25"/>
<circle cx="356.9" cy="441.2" r="3.25"/>
</g>
<g fill="#7957db">
<circle cx="154.0" cy="457.0" r="3.25"/>
<circle cx="156.9" cy="488.7" r="3.25"/>
<circle cx="159.8" cy="511.4" r="3.25"/>
<circle cx="162.7" cy="527.1" r="3.25"/>
<circle cx="165.6" cy="538.4" r="3.25"/>
<circle cx="168.5" cy="546.6" r="3.25"/>
<circle cx="171.4" cy="552.0" r="3.25"/>
<circle cx="173.3" cy="554.8" r="3.25"/>
<circle cx="174.3" cy="555.8" r="3.25"/>
<circle cx="175.2" cy="556.9" r="3.25"/>
<circle cx="176.2" cy="557.8" r="3.25"/>
<circle cx="177.1" cy="558.4" r="3.25"/>
<circle cx="178.1" cy="558.9" r="3.25"/>
<circle cx="179.1" cy="559.3" r="3.25"/>
<circle cx="180.0" cy="559.8" r="3.25"/>
<circle cx="181.0" cy="560.2" r="3.25"/>
<circle cx="182.0" cy="560.2" r="3.25"/>
<circle cx="182.9" cy="560.3" r="3.25"/>
<circle cx="183.9" cy="560.2" r="3.25"/>
<circle cx="184.9" cy="560.2" r="3.25"/>
<circle cx="185.8" cy="559.8" r="3.25"/>
<circle cx="186.8" cy="559.7" r="3.25"/>
<circle cx="187.8" cy="559.1" r="3.25"/>
<circle cx="188.7" cy="558.8" r="3.25"/>
<circle cx="189.7" cy="558.4" r="3.25"/>
<circle cx="190.7" cy="557.7" r="3.25"/>
<circle cx="191.6" cy="556.6" r="3.25"/>
<circle cx="192.6" cy="555.6" r="3.25"/>
<circle cx="192.6" cy="555.6" r="3.25"/>
<circle cx="195.5" cy="553.0" r="3.25"/>
<circle cx="198.4" cy="548.4" r="3.25"/>
<circle cx="201.3" cy="544.2" r="3.25"/>
<circle cx="204.2" cy="540.0" r="3.25"/>
<circle cx="207.1" cy="535.0" r="3.25"/>
<circle cx="210.0" cy="530.5" r="3.25"/>
<circle cx="212.9" cy="526.2" r="3.25"/>
<circle cx="215.8" cy="522.0" r="3.25"/>
<circle cx="218.7" cy="518.0" r="3.25"/>
<circle cx="221.6" cy="514.3" r="3.25"/>
<circle cx="224.5" cy="510.7" r="3.25"/>
<circle cx="227.4" cy="507.4" r="3.25"/>
<circle cx="230.3" cy="504.3" r="3.25"/>
<circle cx="233.2" cy="501.4" r="3.25"/>
<circle cx="236.1" cy="498.4" r="3.25"/>
<circle cx="239.0" cy="495.3" r="3.25"/>
<circle cx="241.9" cy="492.2" r="3.25"/>
<circle cx="244.8" cy="489.1" r="3.25"/>
<circle cx="247.7" cy="485.9" r="3.25"/>
<circle cx="250.6" cy="482.7" r="3.25"/>
<circle cx="253.5" cy="479.1" r="3.25"/>
<circle cx="256.4" cy="475.7" r="3.25"/>
<circle cx="259.3" cy="472.9" r="3.25"/>
<circle cx="262.2" cy="470.5" r="3.25"/>
<circle cx="265.0" cy="468.4" r="3.25"/>
<circle cx="267.9" cy="466.5" r="3.25"/>
<circle cx="270.8" cy="464.7" r="3.25"/>
<circle cx="273.7" cy="463.1" r="3.25"/>
<circle cx="276.6" cy="461.6" r="3.25"/>
<circle cx="279.5" cy="460.3" r="3.25"/>
<circle cx="282.4" cy="459.1" r="3.25"/>
<circle cx="285.3" cy="458.2" r="3.25"/>
<circle cx="288.2" cy="457.4" r="3.25"/>
<circle cx="291.1" cy="456.8" r="3.25"/>
<circle cx="294.0" cy="456.2" r="3.25"/>
<circle cx="296.9" cy="455.6" r="3.25"/>
<circle cx="299.8" cy="455.1" r="3.25"/>
<circle cx="302.7" cy="454.6" r="3.25"/>
<circle cx="305.6" cy="454.0" r="3.25"/>
<circle cx="308.5" cy="453.5" r="3.25"/>
<circle cx="311.4" cy="453.1" r="3.25"/>
<circle cx="314.3" cy="452.6" r="3.25"/>
<circle cx="317.2" cy="452.2" r="3.25"/>
<circle cx="320.1" cy="451.7" r="3.25"/>
<circle cx="323.0" cy="451.1" r="3.25"/>
<circle cx="325.9" cy="450.4" r="3.25"/>
<circle cx="328.8" cy="449.4" r="3.25"/>
<circle cx="331.7" cy="448.2" r="3.25"/>
<circle cx="334.6" cy="446.8" r="3.25"/>
<circle cx="337.5" cy="445.3" r="3.25"/>
<circle cx="340.4" cy="443.7" r="3.25"/>
<circle cx="343.3" cy="442.2" r="3.25"/>
<circle cx="346.2" cy="440.7" r="3.25"/>
<circle cx="349.1" cy="439.1" r="3.25"/>
<circle cx="352.0" cy="437.6" r="3.25"/>
<circle cx="354.9" cy="436.0" r="3.25"/>
<circle cx="357.8" cy="434.7" r="3.25"/>
<circle cx="360.7" cy="433.4" r="3.25"/>
<circle cx="363.6" cy="432.1" r="3.25"/>
<circle cx="366.5" cy="430.7" r="3.25"/>
<circle cx="369.4" cy="428.7" r="3.25"/>
<circle cx="372.3" cy="427.0" r="3.25"/>
<circle cx="375.2" cy="426.3" r="3.25"/>
</g>
<g fill="#c957db">
<circle cx="148.0" cy="315.5" r="3.25"/>
<circle cx="150.7" cy="384.7" r="3.25"/>
<circle cx="153.3" cy="438.7" r="3.25"/>
<circle cx="156.0" cy="480.1" r="3.25"/>
<circle cx="158.6" cy="510.5" r="3.25"/>
<circle cx="161.2" cy="533.2" r="3.25"/>
<circle cx="163.9" cy="547.9" r="3.25"/>
<circle cx="165.7" cy="554.7" r="3.25"/>
<circle cx="166.5" cy="557.0" r="3.25"/>
<circle cx="167.4" cy="559.9" r="3.25"/>
<circle cx="168.3" cy="561.6" r="3.25"/>
<circle cx="169.2" cy="563.5" r="3.25"/>
<circle cx="170.1" cy="564.6" r="3.25"/>
<circle cx="170.9" cy="565.4" r="3.25"/>
<circle cx="171.8" cy="566.0" r="3.25"/>
<circle cx="172.7" cy="566.4" r="3.25"/>
<circle cx="173.6" cy="566.6" r="3.25"/>
<circle cx="174.5" cy="566.7" r="3.25"/>
<circle cx="175.3" cy="566.6" r="3.25"/>
<circle cx="176.2" cy="566.4" r="3.25"/>
<circle cx="177.1" cy="566.2" r="3.25"/>
<circle cx="178.0" cy="565.9" r="3.25"/>
<circle cx="178.9" cy="565.4" r="3.25"/>
<circle cx="179.8" cy="565.0" r="3.25"/>
<circle cx="180.6" cy="564.5" r="3.25"/>
<circle cx="181.5" cy="563.8" r="3.25"/>
<circle cx="182.4" cy="563.3" r="3.25"/>
<circle cx="183.3" cy="562.8" r="3.25"/>
<circle cx="183.3" cy="562.8" r="3.25"/>
<circle cx="185.9" cy="560.9" r="3.25"/>
<circle cx="188.6" cy="559.1" r="3.25"/>
<circle cx="191.2" cy="556.6" r="3.25"/>
<circle cx="193.8" cy="553.9" r="3.25"/>
<circle cx="196.5" cy="550.4" r="3.25"/>
<circle cx="199.1" cy="546.9" r="3.25"/>
<circle cx="201.8" cy="543.6" r="3.25"/>
<circle cx="204.4" cy="539.3" r="3.25"/>
<circle cx="207.1" cy="534.8" r="3.25"/>
<circle cx="209.7" cy="531.1" r="3.25"/>
<circle cx="212.4" cy="527.9" r="3.25"/>
<circle cx="215.0" cy="524.9" r="3.25"/>
<circle cx="217.6" cy="521.6" r="3.25"/>
<circle cx="220.3" cy="517.9" r="3.25"/>
<circle cx="222.9" cy="514.3" r="3.25"/>
<circle cx="225.6" cy="511.2" r="3.25"/>
<circle cx="228.2" cy="508.5" r="3.25"/>
<circle cx="230.9" cy="506.1" r="3.25"/>
<circle cx="233.5" cy="503.6" r="3.25"/>
<circle cx="236.1" cy="501.2" r="3.25"/>
<circle cx="238.8" cy="498.7" r="3.25"/>
<circle cx="241.4" cy="496.3" r="3.25"/>
<circle cx="244.1" cy="493.8" r="3.25"/>
<circle cx="246.7" cy="491.5" r="3.25"/>
<circle cx="249.4" cy="489.1" r="3.25"/>
<circle cx="252.0" cy="486.8" r="3.25"/>
<circle cx="254.6" cy="484.5" r="3.25"/>
<circle cx="257.3" cy="482.2" r="3.25"/>
<circle cx="259.9" cy="479.9" r="3.25"/>
<circle cx="262.6" cy="477.8" r="3.25"/>
<circle cx="265.2" cy="475.7" r="3.25"/>
<circle cx="267.9" cy="473.7" r="3.25"/>
<circle cx="270.5" cy="471.7" r="3.25"/>
<circle cx="273.2" cy="469.8" r="3.25"/>
<circle cx="275.8" cy="467.9" r="3.25"/>
<circle cx="278.4" cy="466.1" r="3.25"/>
<circle cx="281.1" cy="464.3" r="3.25"/>
<circle cx="283.7" cy="462.3" r="3.25"/>
<circle cx="286.4" cy="460.4" r="3.25"/>
<circle cx="289.0" cy="458.6" r="3.25"/>
<circle cx="291.7" cy="457.2" r="3.25"/>
<circle cx="294.3" cy="455.9" r="3.25"/>
<circle cx="296.9" cy="454.8" r="3.25"/>
<circle cx="299.6" cy="453.7" r="3.25"/>
<circle cx="302.2" cy="452.6" r="3.25"/>
<circle cx="304.9" cy="451.6" r="3.25"/>
<circle cx="307.5" cy="451.0" r="3.25"/>
<circle cx="310.2" cy="450.5" r="3.25"/>
<circle cx="312.8" cy="449.9" r="3.25"/>
<circle cx="315.4" cy="449.4" r="3.25"/>
<circle cx="318.1" cy="448.9" r="3.25"/>
<circle cx="320.7" cy="448.3" r="3.25"/>
<circle cx="323.4" cy="447.5" r="3.25"/>
<circle cx="326.0" cy="446.7" r="3.25"/>
<circle cx="328.7" cy="445.9" r="3.25"/>
<circle cx="331.3" cy="445.1" r="3.25"/>
<circle cx="334.0" cy="444.4" r="3.25"/>
<circle cx="336.6" cy="443.5" r="3.25"/>
<circle cx="339.2" cy="442.7" r="3.25"/>
<circle cx="341.9" cy="441.9" r="3.25"/>
<circle cx="344.5" cy="441.2" r="3.25"/>
<circle cx="347.2" cy="440.6" r="3.25"/>
<circle cx="349.8" cy="440.1" r="3.25"/>
</g>
<g fill="#db579e">
<circle cx="151.3" cy="364.9" r="3.25"/>
<circle cx="154.1" cy="417.9" r="3.25"/>
<circle cx="156.9" cy="458.6" r="3.25"/>
<circle cx="159.7" cy="491.3" r="3.25"/>
<circle cx="162.5" cy="518.3" r="3.25"/>
<circle cx="165.2" cy="538.8" r="3.25"/>
<circle cx="168.0" cy="553.7" r="3.25"/>
<circle cx="169.9" cy="561.5" r="3.25"/>
<circle cx="170.8" cy="564.1" r="3.25"/>
<circle cx="171.7" cy="566.6" r="3.25"/>
<circle cx="172.7" cy="568.9" r="3.25"/>
<circle cx="173.6" cy="570.6" r="3.25"/>
<circle cx="174.5" cy="572.0" r="3.25"/>
<circle cx="175.4" cy="573.0" r="3.25"/>
<circle cx="176.4" cy="573.9" r="3.25"/>
<circle cx="177.3" cy="574.4" r="3.25"/>
<circle cx="178.2" cy="574.6" r="3.25"/>
<circle cx="179.2" cy="574.8" r="3.25"/>
<circle cx="180.1" cy="574.6" r="3.25"/>
<circle cx="181.0" cy="574.4" r="3.25"/>
<circle cx="181.9" cy="574.1" r="3.25"/>
<circle cx="182.9" cy="573.5" r="3.25"/>
<circle cx="183.8" cy="573.0" r="3.25"/>
<circle cx="184.7" cy="572.3" r="3.25"/>
<circle cx="185.7" cy="571.6" r="3.25"/>
<circle cx="186.6" cy="570.9" r="3.25"/>
<circle cx="187.5" cy="570.1" r="3.25"/>
<circle cx="188.4" cy="569.6" r="3.25"/>
<circle cx="188.4" cy="569.6" r="3.25"/>
<circle cx="191.2" cy="566.2" r="3.25"/>
<circle cx="194.0" cy="563.4" r="3.25"/>
<circle cx="196.8" cy="559.1" r="3.25"/>
<circle cx="199.6" cy="555.6" r="3.25"/>
<circle cx="202.4" cy="551.3" r="3.25"/>
<circle cx="205.1" cy="547.1" r="3.25"/>
<circle cx="207.9" cy="541.9" r="3.25"/>
<circle cx="210.7" cy="537.5" r="3.25"/>
<circle cx="213.5" cy="533.4" r="3.25"/>
<circle cx="216.3" cy="529.1" r="3.25"/>
<circle cx="219.1" cy="524.6" r="3.25"/>
<circle cx="221.8" cy="520.1" r="3.25"/>
<circle cx="224.6" cy="516.1" r="3.25"/>
<circle cx="227.4" cy="512.7" r="3.25"/>
<circle cx="230.2" cy="509.6" r="3.25"/>
<circle cx="233.0" cy="506.7" r="3.25"/>
<circle cx="235.8" cy="504.1" r="3.25"/>
<circle cx="238.6" cy="501.8" r="3.25"/>
<circle cx="241.3" cy="499.7" r="3.25"/>
<circle cx="244.1" cy="497.5" r="3.25"/>
<circle cx="246.9" cy="494.9" r="3.25"/>
<circle cx="249.7" cy="492.0" r="3.25"/>
<circle cx="252.5" cy="489.2" r="3.25"/>
<circle cx="255.3" cy="486.9" r="3.25"/>
<circle cx="258.0" cy="485.3" r="3.25"/>
<circle cx="260.8" cy="483.9" r="3.25"/>
<circle cx="263.6" cy="482.6" r="3.25"/>
<circle cx="266.4" cy="480.9" r="3.25"/>
<circle cx="269.2" cy="478.9" r="3.25"/>
<circle cx="272.0" cy="477.0" r="3.25"/>
<circle cx="274.7" cy="475.2" r="3.25"/>
<circle cx="277.5" cy="473.4" r="3.25"/>
<circle cx="280.3" cy="471.7" r="3.25"/>
<circle cx="283.1" cy="469.9" r="3.25"/>
<circle cx="285.9" cy="468.3" r="3.25"/>
<circle cx="288.7" cy="467.1" r="3.25"/>
<circle cx="291.4" cy="465.8" r="3.25"/>
<circle cx="294.2" cy="464.1" r="3.25"/>
<circle cx="297.0" cy="462.6" r="3.25"/>
<circle cx="299.8" cy="461.1" r="3.25"/>
<circle cx="302.6" cy="459.7" r="3.25"/>
<circle cx="305.4" cy="458.3" r="3.25"/>
<circle cx="308.2" cy="456.6" r="3.25"/>
<circle cx="310.9" cy="454.7" r="3.25"/>
<circle cx="313.7" cy="452.8" r="3.25"/>
<circle cx="316.5" cy="451.3" r="3.25"/>
<circle cx="319.3" cy="449.9" r="3.25"/>
<circle cx="322.1" cy="448.5" r="3.25"/>
<circle cx="324.9" cy="447.2" r="3.25"/>
<circle cx="327.6" cy="445.7" r="3.25"/>
<circle cx="330.4" cy="444.3" r="3.25"/>
<circle cx="333.2" cy="442.9" r="3.25"/>
<circle cx="336.0" cy="441.5" r="3.25"/>
<circle cx="338.8" cy="440.2" r="3.25"/>
<circle cx="341.6" cy="438.9" r="3.25"/>
<circle cx="344.3" cy="437.7" r="3.25"/>
<circle cx="347.1" cy="436.5" r="3.25"/>
<circle cx="349.9" cy="435.5" r="3.25"/>
<circle cx="352.7" cy="434.4" r="3.25"/>
<circle cx="355.5" cy="433.3" r="3.25"/>
<circle cx="358.3" cy="431.6" r="3.25"/>
<circle cx="361.1" cy="430.0" r="3.25"/>
<circle cx="363.8" cy="429.5" r="3.25"/>
</g>
</g>
<g clip-path="url(#clipM)">
<g fill="#db5f57">
<circle cx="738.1" cy="354.4" r="4.25"/>
<circle cx="758.7" cy="446.2" r="4.25"/>
<circle cx="779.3" cy="514.5" r="4.25"/>
<circle cx="799.9" cy="562.0" r="4.25"/>
<circle cx="820.5" cy="594.5" r="4.25"/>
<circle cx="841.1" cy="616.5" r="4.25"/>
<circle cx="854.8" cy="625.3" r="4.25"/>
<circle cx="861.7" cy="629.1" r="4.25"/>
<circle cx="868.5" cy="632.4" r="4.25"/>
<circle cx="875.4" cy="635.3" r="4.25"/>
<circle cx="882.3" cy="637.8" r="4.25"/>
<circle cx="889.1" cy="639.9" r="4.25"/>
<circle cx="896.0" cy="641.3" r="4.25"/>
<circle cx="902.9" cy="642.1" r="4.25"/>
<circle cx="909.7" cy="642.7" r="4.25"/>
<circle cx="916.6" cy="643.1" r="4.25"/>
<circle cx="923.4" cy="643.2" r="4.25"/>
<circle cx="930.3" cy="643.1" r="4.25"/>
<circle cx="937.2" cy="642.9" r="4.25"/>
<circle cx="944.0" cy="642.5" r="4.25"/>
<circle cx="950.9" cy="642.1" r="4.25"/>
<circle cx="957.8" cy="641.6" r="4.25"/>
<circle cx="964.6" cy="641.0" r="4.25"/>
<circle cx="971.5" cy="640.2" r="4.25"/>
<circle cx="978.3" cy="639.4" r="4.25"/>
<circle cx="985.2" cy="638.8" r="4.25"/>
<circle cx="992.1" cy="637.8" r="4.25"/>
<circle cx="992.1" cy="637.8" r="4.25"/>
<circle cx="1012.7" cy="635.0" r="4.25"/>
<circle cx="1033.2" cy="632.8" r="4.25"/>
<circle cx="1053.8" cy="628.7" r="4.25"/>
<circle cx="1074.4" cy="625.5" r="4.25"/>
<circle cx="1095.0" cy="621.2" r="4.25"/>
<circle cx="1115.6" cy="617.0" r="4.25"/>
<circle cx="1136.2" cy="612.8" r="4.25"/>
<circle cx="1156.8" cy="608.8" r="4.25"/>
<circle cx="1177.4" cy="604.7" r="4.25"/>
</g>
<g fill="#dbae57">
<circle cx="738.1" cy="354.4" r="4.25"/>
<circle cx="758.7" cy="446.2" r="4.25"/>
<circle cx="779.3" cy="514.5" r="4.25"/>
<circle cx="799.9" cy="562.0" r="4.25"/>
<circle cx="820.5" cy="594.5" r="4.25"/>
<circle cx="841.1" cy="616.5" r="4.25"/>
<circle cx="854.8" cy="625.3" r="4.25"/>
<circle cx="861.7" cy="629.1" r="4.25"/>
<circle cx="868.5" cy="632.4" r="4.25"/>
<circle cx="875.4" cy="635.3" r="4.25"/>
<circle cx="882.3" cy="637.8" r="4.25"/>
<circle cx="889.1" cy="639.9" r="4.25"/>
<circle cx="896.0" cy="641.3" r="4.25"/>
<circle cx="902.9" cy="642.1" r="4.25"/>
<circle cx="909.7" cy="642.7" r="4.25"/>
<circle cx="916.6" cy="643.1" r="4.25"/>
<circle cx="923.4" cy="643.2" r="4.25"/>
<circle cx="930.3" cy="643.1" r="4.25"/>
<circle cx="937.2" cy="642.9" r="4.25"/>
<circle cx="944.0" cy="642.5" r="4.25"/>
<circle cx="950.9" cy="642.1" r="4.25"/>
<circle cx="957.8" cy="641.6" r="4.25"/>
<circle cx="964.6" cy="641.0" r="4.25"/>
<circle cx="971.5" cy="640.2" r="4.25"/>
<circle cx="978.3" cy="639.4" r="4.25"/>
<circle cx="985.2" cy="638.8" r="4.25"/>
<circle cx="992.1" cy="637.8" r="4.25"/>
<circle cx="992.1" cy="637.8" r="4.25"/>
<circle cx="1012.7" cy="635.0" r="4.25"/>
<circle cx="1033.2" cy="632.8" r="4.25"/>
<circle cx="1053.8" cy="628.7" r="4.25"/>
<circle cx="1074.4" cy="625.5" r="4.25"/>
<circle cx="1095.0" cy="621.2" r="4.25"/>
<circle cx="1115.6" cy="617.0" r="4.25"/>
<circle cx="1136.2" cy="612.8" r="4.25"/>
<circle cx="1156.8" cy="608.8" r="4.25"/>
<circle cx="1177.4" cy="604.7" r="4.25"/>
</g>
<g fill="#b9db57">
<circle cx="738.7" cy="378.4" r="4.25"/>
<circle cx="759.3" cy="464.4" r="4.25"/>
<circle cx="779.9" cy="526.5" r="4.25"/>
<circle cx="800.5" cy="569.2" r="4.25"/>
<circle cx="821.1" cy="599.2" r="4.25"/>
<circle cx="841.7" cy="619.5" r="4.25"/>
<circle cx="855.5" cy="627.4" r="4.25"/>
<circle cx="862.3" cy="630.8" r="4.25"/>
<circle cx="869.2" cy="633.8" r="4.25"/>
<circle cx="876.1" cy="636.4" r="4.25"/>
<circle cx="882.9" cy="638.6" r="4.25"/>
<circle cx="889.8" cy="640.5" r="4.25"/>
<circle cx="896.7" cy="641.9" r="4.25"/>
<circle cx="903.5" cy="642.7" r="4.25"/>
<circle cx="910.4" cy="643.4" r="4.25"/>
<circle cx="917.3" cy="643.7" r="4.25"/>
<circle cx="924.2" cy="643.7" r="4.25"/>
<circle cx="931.0" cy="643.7" r="4.25"/>
<circle cx="937.9" cy="643.3" r="4.25"/>
<circle cx="944.8" cy="642.9" r="4.25"/>
<circle cx="951.6" cy="642.3" r="4.25"/>
<circle cx="958.5" cy="641.8" r="4.25"/>
<circle cx="965.4" cy="640.9" r="4.25"/>
<circle cx="972.2" cy="640.0" r="4.25"/>
<circle cx="979.1" cy="639.2" r="4.25"/>
<circle cx="986.0" cy="637.9" r="4.25"/>
<circle cx="992.9" cy="636.9" r="4.25"/>
<circle cx="992.9" cy="636.9" r="4.25"/>
<circle cx="1013.5" cy="633.5" r="4.25"/>
<circle cx="1034.1" cy="630.2" r="4.25"/>
<circle cx="1054.7" cy="626.5" r="4.25"/>
<circle cx="1075.3" cy="622.2" r="4.25"/>
<circle cx="1095.9" cy="618.2" r="4.25"/>
<circle cx="1116.5" cy="614.3" r="4.25"/>
<circle cx="1137.1" cy="610.2" r="4.25"/>
<circle cx="1157.7" cy="605.8" r="4.25"/>
<circle cx="1178.3" cy="603.2" r="4.25"/>
</g>
<g fill="#69db57">
<circle cx="740.9" cy="418.5" r="4.25"/>
<circle cx="762.5" cy="481.2" r="4.25"/>
<circle cx="784.1" cy="530.0" r="4.25"/>
<circle cx="805.7" cy="568.8" r="4.25"/>
<circle cx="827.3" cy="598.8" r="4.25"/>
<circle cx="848.9" cy="622.8" r="4.25"/>
<circle cx="870.5" cy="639.0" r="4.25"/>
<circle cx="884.9" cy="647.6" r="4.25"/>
<circle cx="892.1" cy="651.1" r="4.25"/>
<circle cx="899.3" cy="653.9" r="4.25"/>
<circle cx="906.5" cy="656.3" r="4.25"/>
<circle cx="913.6" cy="658.3" r="4.25"/>
<circle cx="920.8" cy="659.9" r="4.25"/>
<circle cx="928.0" cy="661.2" r="4.25"/>
<circle cx="935.2" cy="662.0" r="4.25"/>
<circle cx="942.4" cy="662.5" r="4.25"/>
<circle cx="949.6" cy="662.9" r="4.25"/>
<circle cx="956.8" cy="663.0" r="4.25"/>
<circle cx="964.0" cy="662.9" r="4.25"/>
<circle cx="971.2" cy="662.8" r="4.25"/>
<circle cx="978.4" cy="662.2" r="4.25"/>
<circle cx="985.6" cy="661.8" r="4.25"/>
<circle cx="992.8" cy="661.0" r="4.25"/>
<circle cx="1000.0" cy="660.2" r="4.25"/>
<circle cx="1007.2" cy="659.4" r="4.25"/>
<circle cx="1014.4" cy="658.4" r="4.25"/>
<circle cx="1021.6" cy="657.4" r="4.25"/>
<circle cx="1028.8" cy="656.0" r="4.25"/>
<circle cx="1028.8" cy="656.0" r="4.25"/>
<circle cx="1050.4" cy="653.0" r="4.25"/>
<circle cx="1072.0" cy="649.2" r="4.25"/>
<circle cx="1093.6" cy="645.0" r="4.25"/>
<circle cx="1115.2" cy="640.0" r="4.25"/>
<circle cx="1136.7" cy="636.2" r="4.25"/>
<circle cx="1158.3" cy="630.5" r="4.25"/>
<circle cx="1179.9" cy="627.0" r="4.25"/>
</g>
<g fill="#57db94">
<circle cx="744.9" cy="445.5" r="4.25"/>
<circle cx="766.6" cy="502.2" r="4.25"/>
<circle cx="788.4" cy="547.5" r="4.25"/>
<circle cx="810.1" cy="581.5" r="4.25"/>
<circle cx="831.9" cy="607.8" r="4.25"/>
<circle cx="853.7" cy="628.0" r="4.25"/>
<circle cx="875.4" cy="641.0" r="4.25"/>
<circle cx="889.9" cy="648.1" r="4.25"/>
<circle cx="897.2" cy="651.0" r="4.25"/>
<circle cx="904.4" cy="653.1" r="4.25"/>
<circle cx="911.7" cy="655.1" r="4.25"/>
<circle cx="918.9" cy="657.0" r="4.25"/>
<circle cx="926.2" cy="658.1" r="4.25"/>
<circle cx="933.4" cy="659.1" r="4.25"/>
<circle cx="940.7" cy="659.9" r="4.25"/>
<circle cx="948.0" cy="660.5" r="4.25"/>
<circle cx="955.2" cy="660.7" r="4.25"/>
<circle cx="962.5" cy="661.0" r="4.25"/>
<circle cx="969.7" cy="660.7" r="4.25"/>
<circle cx="977.0" cy="660.5" r="4.25"/>
<circle cx="984.2" cy="660.2" r="4.25"/>
<circle cx="991.5" cy="659.8" r="4.25"/>
<circle cx="998.7" cy="658.9" r="4.25"/>
<circle cx="1006.0" cy="658.4" r="4.25"/>
<circle cx="1013.2" cy="657.4" r="4.25"/>
<circle cx="1020.5" cy="656.5" r="4.25"/>
<circle cx="1027.7" cy="655.6" r="4.25"/>
<circle cx="1035.0" cy="654.2" r="4.25"/>
<circle cx="1035.0" cy="654.2" r="4.25"/>
<circle cx="1056.7" cy="651.5" r="4.25"/>
<circle cx="1078.5" cy="647.3" r="4.25"/>
<circle cx="1100.3" cy="642.2" r="4.25"/>
<circle cx="1122.0" cy="638.3" r="4.25"/>
<circle cx="1143.8" cy="633.0" r="4.25"/>
<circle cx="1165.5" cy="628.2" r="4.25"/>
<circle cx="1187.3" cy="624.2" r="4.25"/>
</g>
<g fill="#57d3db">
<circle cx="1179.9" cy="522.6" r="4.25"/>
</g>
<g fill="#5784db">
<circle cx="729.5" cy="219.2" r="4.25"/>
<circle cx="750.6" cy="356.6" r="4.25"/>
<circle cx="771.7" cy="450.5" r="4.25"/>
<circle cx="792.8" cy="514.5" r="4.25"/>
<circle cx="813.9" cy="557.0" r="4.25"/>
<circle cx="835.0" cy="587.2" r="4.25"/>
<circle cx="856.1" cy="607.3" r="4.25"/>
<circle cx="870.1" cy="617.2" r="4.25"/>
<circle cx="877.1" cy="621.2" r="4.25"/>
<circle cx="884.2" cy="625.0" r="4.25"/>
<circle cx="891.2" cy="628.2" r="4.25"/>
<circle cx="898.2" cy="630.6" r="4.25"/>
<circle cx="905.3" cy="632.6" r="4.25"/>
<circle cx="912.3" cy="634.2" r="4.25"/>
<circle cx="919.3" cy="635.4" r="4.25"/>
<circle cx="926.4" cy="636.4" r="4.25"/>
<circle cx="933.4" cy="636.8" r="4.25"/>
<circle cx="940.4" cy="636.9" r="4.25"/>
<circle cx="947.5" cy="636.8" r="4.25"/>
<circle cx="954.5" cy="636.4" r="4.25"/>
<circle cx="961.5" cy="635.8" r="4.25"/>
<circle cx="968.6" cy="634.8" r="4.25"/>
<circle cx="975.6" cy="633.8" r="4.25"/>
<circle cx="982.6" cy="632.6" r="4.25"/>
<circle cx="989.7" cy="631.2" r="4.25"/>
<circle cx="996.7" cy="629.5" r="4.25"/>
<circle cx="1003.7" cy="628.0" r="4.25"/>
<circle cx="1010.8" cy="626.4" r="4.25"/>
<circle cx="1010.8" cy="626.4" r="4.25"/>
<circle cx="1031.9" cy="621.2" r="4.25"/>
<circle cx="1053.0" cy="615.2" r="4.25"/>
<circle cx="1074.1" cy="610.2" r="4.25"/>
<circle cx="1095.2" cy="604.2" r="4.25"/>
<circle cx="1116.3" cy="600.2" r="4.25"/>
<circle cx="1137.4" cy="596.5" r="4.25"/>
<circle cx="1158.5" cy="592.2" r="4.25"/>
<circle cx="1179.6" cy="589.2" r="4.25"/>
</g>
<g fill="#7957db">
<circle cx="762.6" cy="529.5" r="4.25"/>
<circle cx="785.2" cy="566.2" r="4.25"/>
<circle cx="807.7" cy="592.3" r="4.25"/>
<circle cx="830.2" cy="610.5" r="4.25"/>
<circle cx="852.7" cy="623.5" r="4.25"/>
<circle cx="875.2" cy="633.0" r="4.25"/>
<circle cx="897.8" cy="639.2" r="4.25"/>
<circle cx="912.8" cy="642.3" r="4.25"/>
<circle cx="920.3" cy="643.5" r="4.25"/>
<circle cx="927.8" cy="644.8" r="4.25"/>
<circle cx="935.3" cy="645.8" r="4.25"/>
<circle cx="942.8" cy="646.5" r="4.25"/>
<circle cx="950.3" cy="647.1" r="4.25"/>
<circle cx="957.8" cy="647.5" r="4.25"/>
<circle cx="965.3" cy="648.2" r="4.25"/>
<circle cx="972.8" cy="648.6" r="4.25"/>
<circle cx="980.3" cy="648.6" r="4.25"/>
<circle cx="987.8" cy="648.8" r="4.25"/>
<circle cx="995.3" cy="648.6" r="4.25"/>
<circle cx="1002.9" cy="648.6" r="4.25"/>
<circle cx="1010.4" cy="648.1" r="4.25"/>
<circle cx="1017.9" cy="648.0" r="4.25"/>
<circle cx="1025.4" cy="647.3" r="4.25"/>
<circle cx="1032.9" cy="646.9" r="4.25"/>
<circle cx="1040.4" cy="646.5" r="4.25"/>
<circle cx="1047.9" cy="645.7" r="4.25"/>
<circle cx="1055.4" cy="644.4" r="4.25"/>
<circle cx="1062.9" cy="643.2" r="4.25"/>
<circle cx="1062.9" cy="643.2" r="4.25"/>
<circle cx="1085.4" cy="640.2" r="4.25"/>
<circle cx="1107.9" cy="635.0" r="4.25"/>
<circle cx="1130.5" cy="630.2" r="4.25"/>
<circle cx="1153.0" cy="625.2" r="4.25"/>
<circle cx="1175.5" cy="619.5" r="4.25"/>
</g>
<g fill="#c957db">
<circle cx="737.0" cy="446.2" r="4.25"/>
<circle cx="757.6" cy="508.6" r="4.25"/>
<circle cx="778.1" cy="556.2" r="4.25"/>
<circle cx="798.7" cy="591.2" r="4.25"/>
<circle cx="819.2" cy="617.5" r="4.25"/>
<circle cx="839.8" cy="634.5" r="4.25"/>
<circle cx="853.5" cy="642.2" r="4.25"/>
<circle cx="860.3" cy="645.0" r="4.25"/>
<circle cx="867.2" cy="648.2" r="4.25"/>
<circle cx="874.0" cy="650.2" r="4.25"/>
<circle cx="880.9" cy="652.5" r="4.25"/>
<circle cx="887.7" cy="653.7" r="4.25"/>
<circle cx="894.5" cy="654.6" r="4.25"/>
<circle cx="901.4" cy="655.3" r="4.25"/>
<circle cx="908.2" cy="655.7" r="4.25"/>
<circle cx="915.1" cy="656.0" r="4.25"/>
<circle cx="921.9" cy="656.1" r="4.25"/>
<circle cx="928.8" cy="655.9" r="4.25"/>
<circle cx="935.6" cy="655.7" r="4.25"/>
<circle cx="942.5" cy="655.5" r="4.25"/>
<circle cx="949.3" cy="655.1" r="4.25"/>
<circle cx="956.2" cy="654.5" r="4.25"/>
<circle cx="963.0" cy="654.2" r="4.25"/>
<circle cx="969.9" cy="653.6" r="4.25"/>
<circle cx="976.7" cy="652.8" r="4.25"/>
<circle cx="983.6" cy="652.2" r="4.25"/>
<circle cx="990.4" cy="651.6" r="4.25"/>
<circle cx="990.4" cy="651.6" r="4.25"/>
<circle cx="1011.0" cy="649.4" r="4.25"/>
<circle cx="1031.5" cy="647.3" r="4.25"/>
<circle cx="1052.1" cy="644.5" r="4.25"/>
<circle cx="1072.6" cy="641.3" r="4.25"/>
<circle cx="1093.1" cy="637.2" r="4.25"/>
<circle cx="1113.7" cy="633.2" r="4.25"/>
<circle cx="1134.2" cy="629.5" r="4.25"/>
<circle cx="1154.8" cy="624.5" r="4.25"/>
<circle cx="1175.3" cy="619.2" r="4.25"/>
</g>
<g fill="#db579e">
<circle cx="742.0" cy="423.4" r="4.25"/>
<circle cx="763.7" cy="484.6" r="4.25"/>
<circle cx="785.3" cy="531.5" r="4.25"/>
<circle cx="806.9" cy="569.2" r="4.25"/>
<circle cx="828.6" cy="600.2" r="4.25"/>
<circle cx="850.2" cy="624.0" r="4.25"/>
<circle cx="871.8" cy="641.0" r="4.25"/>
<circle cx="886.3" cy="650.0" r="4.25"/>
<circle cx="893.5" cy="653.1" r="4.25"/>
<circle cx="900.7" cy="656.0" r="4.25"/>
<circle cx="907.9" cy="658.6" r="4.25"/>
<circle cx="915.1" cy="660.6" r="4.25"/>
<circle cx="922.3" cy="662.2" r="4.25"/>
<circle cx="929.5" cy="663.3" r="4.25"/>
<circle cx="936.8" cy="664.4" r="4.25"/>
<circle cx="944.0" cy="664.9" r="4.25"/>
<circle cx="951.2" cy="665.2" r="4.25"/>
<circle cx="958.4" cy="665.4" r="4.25"/>
<circle cx="965.6" cy="665.2" r="4.25"/>
<circle cx="972.8" cy="665.0" r="4.25"/>
<circle cx="980.0" cy="664.6" r="4.25"/>
<circle cx="987.2" cy="664.0" r="4.25"/>
<circle cx="994.5" cy="663.4" r="4.25"/>
<circle cx="1001.7" cy="662.6" r="4.25"/>
<circle cx="1008.9" cy="661.8" r="4.25"/>
<circle cx="1016.1" cy="661.0" r="4.25"/>
<circle cx="1023.3" cy="660.0" r="4.25"/>
<circle cx="1030.5" cy="659.5" r="4.25"/>
<circle cx="1030.5" cy="659.5" r="4.25"/>
<circle cx="1052.2" cy="655.5" r="4.25"/>
<circle cx="1073.8" cy="652.2" r="4.25"/>
<circle cx="1095.4" cy="647.3" r="4.25"/>
<circle cx="1117.1" cy="643.2" r="4.25"/>
<circle cx="1138.7" cy="638.3" r="4.25"/>
<circle cx="1160.3" cy="633.5" r="4.25"/>
<circle cx="1182.0" cy="627.5" r="4.25"/>
</g>
</g>
<g clip-path="url(#clipR)">
<g fill="#db5f57">
<circle cx="1309.6" cy="491.0" r="4.25"/>
<circle cx="1332.5" cy="498.2" r="4.25"/>
<circle cx="1355.4" cy="502.0" r="4.25"/>
<circle cx="1378.3" cy="505.3" r="4.25"/>
<circle cx="1401.2" cy="507.2" r="4.25"/>
<circle cx="1424.1" cy="507.5" r="4.25"/>
<circle cx="1447.0" cy="507.2" r="4.25"/>
<circle cx="1469.9" cy="506.0" r="4.25"/>
<circle cx="1492.8" cy="504.2" r="4.25"/>
<circle cx="1515.7" cy="502.2" r="4.25"/>
<circle cx="1538.6" cy="499.5" r="4.25"/>
<circle cx="1561.5" cy="496.5" r="4.25"/>
<circle cx="1584.4" cy="492.5" r="4.25"/>
<circle cx="1607.3" cy="488.5" r="4.25"/>
<circle cx="1630.2" cy="485.4" r="4.25"/>
<circle cx="1653.1" cy="480.5" r="4.25"/>
<circle cx="1653.1" cy="480.5" r="4.25"/>
<circle cx="1721.8" cy="466.6" r="4.25"/>
</g>
<g fill="#dbae57">
<circle cx="1309.6" cy="491.0" r="4.25"/>
<circle cx="1332.5" cy="498.2" r="4.25"/>
<circle cx="1355.4" cy="502.0" r="4.25"/>
<circle cx="1378.3" cy="505.3" r="4.25"/>
<circle cx="1401.2" cy="507.2" r="4.25"/>
<circle cx="1424.1" cy="507.5" r="4.25"/>
<circle cx="1447.0" cy="507.2" r="4.25"/>
<circle cx="1469.9" cy="506.0" r="4.25"/>
<circle cx="1492.8" cy="504.2" r="4.25"/>
<circle cx="1515.7" cy="502.2" r="4.25"/>
<circle cx="1538.6" cy="499.5" r="4.25"/>
<circle cx="1561.5" cy="496.5" r="4.25"/>
<circle cx="1584.4" cy="492.5" r="4.25"/>
<circle cx="1607.3" cy="488.5" r="4.25"/>
<circle cx="1630.2" cy="485.4" r="4.25"/>
<circle cx="1653.1" cy="480.5" r="4.25"/>
<circle cx="1653.1" cy="480.5" r="4.25"/>
<circle cx="1721.8" cy="466.6" r="4.25"/>
</g>
<g fill="#b9db57">
<circle cx="1311.9" cy="494.3" r="4.25"/>
<circle cx="1334.8" cy="501.2" r="4.25"/>
<circle cx="1357.7" cy="505.3" r="4.25"/>
<circle cx="1380.6" cy="508.5" r="4.25"/>
<circle cx="1403.6" cy="510.2" r="4.25"/>
<circle cx="1426.5" cy="510.2" r="4.25"/>
<circle cx="1449.4" cy="510.2" r="4.25"/>
<circle cx="1472.3" cy="508.3" r="4.25"/>
<circle cx="1495.3" cy="506.0" r="4.25"/>
<circle cx="1518.2" cy="503.3" r="4.25"/>
<circle cx="1541.1" cy="500.4" r="4.25"/>
<circle cx="1564.1" cy="496.3" r="4.25"/>
<circle cx="1587.0" cy="491.4" r="4.25"/>
<circle cx="1609.9" cy="487.5" r="4.25"/>
<circle cx="1632.8" cy="481.2" r="4.25"/>
<circle cx="1655.8" cy="476.3" r="4.25"/>
<circle cx="1655.8" cy="476.3" r="4.25"/>
<circle cx="1724.5" cy="459.2" r="4.25"/>
</g>
<g fill="#69db57">
<circle cx="1319.4" cy="547.3" r="4.25"/>
<circle cx="1343.4" cy="561.2" r="4.25"/>
<circle cx="1367.4" cy="573.3" r="4.25"/>
<circle cx="1391.4" cy="583.3" r="4.25"/>
<circle cx="1415.4" cy="591.3" r="4.25"/>
<circle cx="1439.5" cy="597.5" r="4.25"/>
<circle cx="1463.5" cy="601.5" r="4.25"/>
<circle cx="1487.5" cy="604.3" r="4.25"/>
<circle cx="1511.5" cy="606.2" r="4.25"/>
<circle cx="1535.5" cy="606.5" r="4.25"/>
<circle cx="1559.5" cy="606.2" r="4.25"/>
<circle cx="1583.6" cy="605.5" r="4.25"/>
<circle cx="1607.6" cy="602.5" r="4.25"/>
<circle cx="1631.6" cy="600.5" r="4.25"/>
<circle cx="1655.6" cy="596.5" r="4.25"/>
<circle cx="1679.6" cy="592.5" r="4.25"/>
<circle cx="1703.6" cy="588.5" r="4.25"/>
<circle cx="1727.7" cy="583.5" r="4.25"/>
<circle cx="1751.7" cy="578.5" r="4.25"/>
<circle cx="1775.7" cy="571.6" r="4.25"/>
<circle cx="1775.7" cy="571.6" r="4.25"/>
</g>
<g fill="#57db94">
<circle cx="1312.3" cy="532.3" r="4.25"/>
<circle cx="1336.5" cy="546.5" r="4.25"/>
<circle cx="1360.7" cy="557.2" r="4.25"/>
<circle cx="1384.9" cy="567.4" r="4.25"/>
<circle cx="1409.1" cy="576.6" r="4.25"/>
<circle cx="1433.3" cy="582.3" r="4.25"/>
<circle cx="1457.5" cy="587.2" r="4.25"/>
<circle cx="1481.7" cy="591.3" r="4.25"/>
<circle cx="1505.9" cy="594.2" r="4.25"/>
<circle cx="1530.1" cy="595.3" r="4.25"/>
<circle cx="1554.3" cy="596.5" r="4.25"/>
<circle cx="1578.5" cy="595.3" r="4.25"/>
<circle cx="1602.7" cy="594.2" r="4.25"/>
<circle cx="1626.9" cy="592.5" r="4.25"/>
<circle cx="1651.1" cy="590.5" r="4.25"/>
<circle cx="1675.3" cy="586.3" r="4.25"/>
<circle cx="1699.5" cy="583.5" r="4.25"/>
<circle cx="1723.7" cy="578.5" r="4.25"/>
<circle cx="1748.0" cy="574.3" r="4.25"/>
<circle cx="1772.2" cy="569.5" r="4.25"/>
</g>
<g fill="#57d3db">
</g>
<g fill="#5784db">
<circle cx="1316.6" cy="432.5" r="4.25"/>
<circle cx="1340.0" cy="444.5" r="4.25"/>
<circle cx="1363.5" cy="454.5" r="4.25"/>
<circle cx="1387.0" cy="462.5" r="4.25"/>
<circle cx="1410.5" cy="468.5" r="4.25"/>
<circle cx="1433.9" cy="473.6" r="4.25"/>
<circle cx="1457.4" cy="475.6" r="4.25"/>
<circle cx="1480.9" cy="476.3" r="4.25"/>
<circle cx="1504.3" cy="475.4" r="4.25"/>
<circle cx="1527.8" cy="473.6" r="4.25"/>
<circle cx="1551.3" cy="470.5" r="4.25"/>
<circle cx="1574.7" cy="465.5" r="4.25"/>
<circle cx="1598.2" cy="460.4" r="4.25"/>
<circle cx="1621.7" cy="454.5" r="4.25"/>
<circle cx="1645.1" cy="447.5" r="4.25"/>
<circle cx="1668.6" cy="439.4" r="4.25"/>
<circle cx="1692.1" cy="431.4" r="4.25"/>
<circle cx="1715.6" cy="423.5" r="4.25"/>
<circle cx="1715.6" cy="423.5" r="4.25"/>
</g>
<g fill="#7957db">
<circle cx="1338.4" cy="487.5" r="4.25"/>
<circle cx="1388.5" cy="503.3" r="4.25"/>
<circle cx="1413.6" cy="509.3" r="4.25"/>
<circle cx="1438.6" cy="515.5" r="4.25"/>
<circle cx="1463.7" cy="520.6" r="4.25"/>
<circle cx="1488.7" cy="524.3" r="4.25"/>
<circle cx="1513.8" cy="527.0" r="4.25"/>
<circle cx="1538.8" cy="529.2" r="4.25"/>
<circle cx="1563.9" cy="532.5" r="4.25"/>
<circle cx="1588.9" cy="534.5" r="4.25"/>
<circle cx="1614.0" cy="534.5" r="4.25"/>
<circle cx="1639.0" cy="535.5" r="4.25"/>
<circle cx="1664.1" cy="534.5" r="4.25"/>
<circle cx="1689.1" cy="534.5" r="4.25"/>
<circle cx="1714.2" cy="532.3" r="4.25"/>
<circle cx="1739.2" cy="531.6" r="4.25"/>
<circle cx="1764.3" cy="528.2" r="4.25"/>
</g>
<g fill="#c957db">
<circle cx="1304.8" cy="560.1" r="4.25"/>
<circle cx="1327.7" cy="564.5" r="4.25"/>
<circle cx="1350.5" cy="568.0" r="4.25"/>
<circle cx="1373.4" cy="570.2" r="4.25"/>
<circle cx="1396.3" cy="571.5" r="4.25"/>
<circle cx="1419.1" cy="572.4" r="4.25"/>
<circle cx="1442.0" cy="571.3" r="4.25"/>
<circle cx="1464.8" cy="570.2" r="4.25"/>
<circle cx="1487.7" cy="569.2" r="4.25"/>
<circle cx="1510.5" cy="567.4" r="4.25"/>
<circle cx="1533.4" cy="564.4" r="4.25"/>
<circle cx="1556.2" cy="562.5" r="4.25"/>
<circle cx="1579.1" cy="559.5" r="4.25"/>
<circle cx="1601.9" cy="555.5" r="4.25"/>
<circle cx="1624.8" cy="552.5" r="4.25"/>
<circle cx="1647.6" cy="549.6" r="4.25"/>
<circle cx="1647.6" cy="549.6" r="4.25"/>
<circle cx="1716.2" cy="538.6" r="4.25"/>
</g>
<g fill="#db579e">
<circle cx="1324.1" cy="557.2" r="4.25"/>
<circle cx="1348.2" cy="571.5" r="4.25"/>
<circle cx="1372.3" cy="584.5" r="4.25"/>
<circle cx="1396.4" cy="594.6" r="4.25"/>
<circle cx="1420.4" cy="602.5" r="4.25"/>
<circle cx="1444.5" cy="608.2" r="4.25"/>
<circle cx="1468.6" cy="613.5" r="4.25"/>
<circle cx="1492.6" cy="616.3" r="4.25"/>
<circle cx="1516.7" cy="617.5" r="4.25"/>
<circle cx="1540.8" cy="618.5" r="4.25"/>
<circle cx="1564.8" cy="617.5" r="4.25"/>
<circle cx="1588.9" cy="616.5" r="4.25"/>
<circle cx="1613.0" cy="614.5" r="4.25"/>
<circle cx="1637.0" cy="611.5" r="4.25"/>
<circle cx="1661.1" cy="608.5" r="4.25"/>
<circle cx="1685.2" cy="604.5" r="4.25"/>
<circle cx="1709.2" cy="600.5" r="4.25"/>
<circle cx="1733.3" cy="596.5" r="4.25"/>
<circle cx="1757.4" cy="591.5" r="4.25"/>
</g>
</g>
<rect class="spine" x="145.5" y="86.5" width="462" height="591.0"/>
<rect class="spine" x="727.5" y="86.5" width="462" height="591.0"/>
<rect class="spine" x="1309.5" y="86.5" width="462" height="591.0"/>
<rect x="442" y="95.5" width="155" height="291.5" rx="4.5" ry="4.5" fill="#fff" fill-opacity="0.8" stroke="#ccc" stroke-opacity="0.8" stroke-width="2.2"/>
<circle cx="469.4" cy="113.5" r="3.3" fill="#db5f57" class="lm"/>
<text class="leg" x="503.7" y="119">Sn(tI2)</text>
<circle cx="469.4" cy="142.5" r="3.3" fill="#dbae57" class="lm"/>
<text class="leg" x="503.7" y="147">Sn</text>
<circle cx="469.4" cy="170.5" r="3.3" fill="#b9db57" class="lm"/>
<text class="leg" x="504.6" y="176">Bi</text>
<circle cx="469.4" cy="199.5" r="3.3" fill="#69db57" class="lm"/>
<text class="leg" x="503.7" y="203.5">Sm</text>
<circle cx="469.4" cy="228.5" r="3.3" fill="#57db94" class="lm"/>
<text class="leg" x="504.6" y="233">La</text>
<circle cx="469.4" cy="257.5" r="3.3" fill="#57d3db" class="lm"/>
<text class="leg" x="503.9" y="261.5">diamond</text>
<circle cx="469.4" cy="285.5" r="3.3" fill="#5784db" class="lm"/>
<text class="leg" x="503.95" y="289.5">sc</text>
<circle cx="469.4" cy="314.5" r="3.3" fill="#7957db" class="lm"/>
<text class="leg" x="505.35" y="318.5">fcc</text>
<circle cx="469.4" cy="343.5" r="3.3" fill="#c957db" class="lm"/>
<text class="leg" x="504.7" y="347.5">bcc</text>
<circle cx="469.4" cy="371.5" r="3.3" fill="#db579e" class="lm"/>
<text class="leg" x="504.7" y="376.5">hcp</text>
<g class="tick">
<text x="234.3" y="717.9" text-anchor="middle">50</text>
<text x="382.8" y="717.9" text-anchor="middle">100</text>
<text x="531.2" y="717.9" text-anchor="middle">150</text>
<text x="121.7" y="194.3" text-anchor="end">0.2</text>
<text x="121.7" y="296.9" text-anchor="end">0.1</text>
<text x="121.7" y="399.5" text-anchor="end">0.0</text>
<text x="121.7" y="502.0" text-anchor="end">−0.1</text>
<text x="121.7" y="604.6" text-anchor="end">−0.2</text>
</g>
<text class="lab xl" x="251.9" y="762.5">Volume (</text>
<text class="lab math" x="377.2" y="762.5">Å</text>
<text class="sup" x="398.0" y="752.0">3</text>
<text class="lab xl" x="408.7" y="762.5">/atom)</text>
<g class="tick">
<text x="814.1" y="717.9" text-anchor="middle">25</text>
<text x="929.5" y="717.9" text-anchor="middle">30</text>
<text x="1044.8" y="717.9" text-anchor="middle">35</text>
<text x="1160.2" y="717.9" text-anchor="middle">40</text>
<text x="703.7" y="107.2" text-anchor="end">0.3</text>
<text x="703.7" y="225.4" text-anchor="end">0.2</text>
<text x="703.7" y="343.6" text-anchor="end">0.1</text>
<text x="703.7" y="461.9" text-anchor="end">0.0</text>
<text x="703.7" y="580.1" text-anchor="end">−0.1</text>
</g>
<text class="lab xl" x="833.9" y="762.5">Volume (</text>
<text class="lab math" x="959.2" y="762.5">Å</text>
<text class="sup" x="980.0" y="752.0">3</text>
<text class="lab xl" x="990.7" y="762.5">/atom)</text>
<g class="tick">
<text x="1443.4" y="717.9" text-anchor="middle">30</text>
<text x="1597.4" y="717.9" text-anchor="middle">32</text>
<text x="1751.4" y="717.9" text-anchor="middle">34</text>
<text x="1285.7" y="156.8" text-anchor="end">−0.10</text>
<text x="1285.7" y="275.0" text-anchor="end">−0.12</text>
<text x="1285.7" y="393.3" text-anchor="end">−0.14</text>
<text x="1285.7" y="511.5" text-anchor="end">−0.16</text>
<text x="1285.7" y="629.8" text-anchor="end">−0.18</text>
</g>
<text class="lab xl" x="1415.9" y="762.5">Volume (</text>
<text class="lab math" x="1541.2" y="762.5">Å</text>
<text class="sup" x="1562.0" y="752.0">3</text>
<text class="lab xl" x="1572.7" y="762.5">/atom)</text>
<text class="lab" transform="translate(49.5 382) rotate(-90)" text-anchor="middle">Energy (eV/atom)</text>
<text class="title" x="899.5" y="38.2" text-anchor="middle">Equation of state (Hg, gtinv-264)</text>
</svg>
</body></html>
